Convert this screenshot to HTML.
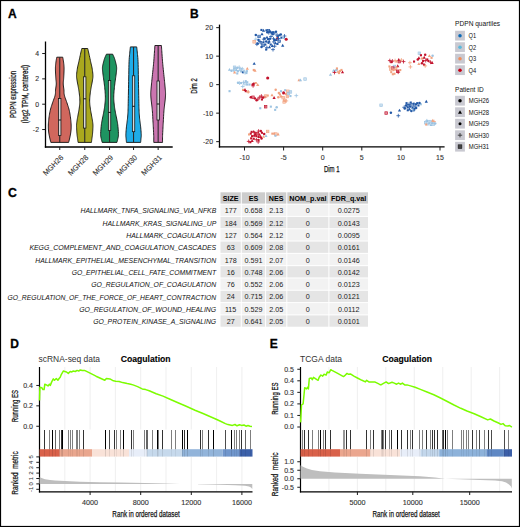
<!DOCTYPE html>
<html><head><meta charset="utf-8"><style>
html,body{margin:0;padding:0;background:#fff;}
svg{display:block;}
text{font-family:"Liberation Sans",sans-serif;}
</style></head><body>
<svg width="520" height="527" viewBox="0 0 520 527">
<rect width="520" height="527" fill="#fff"/>
<rect x="0.5" y="0.5" width="519" height="526" fill="none" stroke="#000" stroke-width="1.2"/>
<text x="8.10" y="17.90" font-size="12" stroke="#000" stroke-width="0.3" font-weight="bold">A</text>
<text x="190.00" y="18.30" font-size="12" stroke="#000" stroke-width="0.3" font-weight="bold">B</text>
<text x="8.00" y="196.60" font-size="12.3" stroke="#000" stroke-width="0.3" font-weight="bold">C</text>
<text x="10.20" y="348.00" font-size="12" stroke="#000" stroke-width="0.3" font-weight="bold">D</text>
<text x="269.80" y="348.00" font-size="12" stroke="#000" stroke-width="0.3" font-weight="bold">E</text>
<polygon points="62.75,57.20 62.84,57.72 62.97,58.43 63.12,59.28 63.28,60.19 63.42,61.12 63.55,62.00 63.66,62.84 63.76,63.68 63.86,64.54 63.94,65.41 64.00,66.29 64.05,67.20 64.07,68.13 64.07,69.10 64.05,70.08 64.02,71.06 63.99,72.04 63.95,73.00 63.91,73.95 63.87,74.89 63.82,75.82 63.76,76.76 63.71,77.68 63.65,78.60 63.58,79.50 63.48,80.39 63.39,81.27 63.31,82.16 63.25,83.07 63.25,84.00 63.31,84.97 63.41,85.99 63.55,87.01 63.70,88.04 63.84,89.04 63.95,90.00 64.01,90.89 64.02,91.70 64.03,92.50 64.06,93.32 64.16,94.20 64.35,95.20 64.66,96.33 65.06,97.56 65.53,98.86 66.02,100.19 66.51,101.51 66.95,102.80 67.36,104.05 67.78,105.30 68.18,106.54 68.57,107.79 68.93,109.04 69.25,110.30 69.53,111.58 69.78,112.88 70.01,114.18 70.21,115.48 70.39,116.75 70.55,118.00 70.70,119.22 70.83,120.42 70.94,121.61 71.04,122.77 71.10,123.90 71.15,125.00 71.17,126.06 71.17,127.07 71.15,128.06 71.11,129.04 71.04,130.01 70.95,131.00 70.83,132.01 70.69,133.02 70.52,134.04 70.34,135.04 70.14,136.03 69.95,137.00 69.74,138.00 69.49,139.04 69.24,140.07 69.00,141.02 68.79,141.82 68.65,142.40 50.85,142.40 50.71,141.82 50.50,141.02 50.26,140.07 50.01,139.04 49.76,138.00 49.55,137.00 49.36,136.03 49.16,135.04 48.98,134.04 48.81,133.02 48.67,132.01 48.55,131.00 48.46,130.01 48.39,129.04 48.35,128.06 48.33,127.07 48.33,126.06 48.35,125.00 48.40,123.90 48.46,122.77 48.56,121.61 48.67,120.42 48.80,119.22 48.95,118.00 49.11,116.75 49.29,115.48 49.49,114.18 49.72,112.88 49.97,111.58 50.25,110.30 50.57,109.04 50.93,107.79 51.32,106.54 51.72,105.30 52.14,104.05 52.55,102.80 52.99,101.51 53.48,100.19 53.97,98.86 54.44,97.56 54.84,96.33 55.15,95.20 55.34,94.20 55.44,93.32 55.47,92.50 55.48,91.70 55.49,90.89 55.55,90.00 55.66,89.04 55.80,88.04 55.95,87.01 56.09,85.99 56.19,84.97 56.25,84.00 56.25,83.07 56.19,82.16 56.11,81.27 56.02,80.39 55.92,79.50 55.85,78.60 55.79,77.68 55.74,76.76 55.68,75.82 55.63,74.89 55.59,73.95 55.55,73.00 55.51,72.04 55.48,71.06 55.45,70.08 55.43,69.10 55.43,68.13 55.45,67.20 55.50,66.29 55.56,65.41 55.64,64.54 55.74,63.68 55.84,62.84 55.95,62.00 56.08,61.12 56.22,60.19 56.38,59.28 56.53,58.43 56.66,57.72 56.75,57.20" fill="#D0675D" stroke="#111" stroke-width="0.9" stroke-linejoin="round"/>
<line x1="59.75" y1="57.20" x2="59.75" y2="98.60" stroke="#2a2a2a" stroke-width="1.1"/>
<line x1="59.75" y1="135.40" x2="59.75" y2="142.40" stroke="#2a2a2a" stroke-width="1.1"/>
<rect x="58.55" y="98.60" width="2.4" height="36.80" fill="#D9D9D9" stroke="#111" stroke-width="0.75"/>
<line x1="58.55" y1="120.00" x2="60.95" y2="120.00" stroke="#111" stroke-width="1.0"/>
<polygon points="87.70,48.50 87.80,48.94 87.94,49.51 88.11,50.21 88.30,51.02 88.51,51.95 88.75,53.00 89.02,54.23 89.34,55.68 89.68,57.24 90.02,58.82 90.35,60.34 90.65,61.70 90.92,62.88 91.17,63.93 91.41,64.93 91.64,65.90 91.85,66.91 92.05,68.00 92.25,69.20 92.44,70.49 92.62,71.80 92.78,73.10 92.89,74.35 92.95,75.50 92.94,76.52 92.88,77.45 92.78,78.32 92.65,79.17 92.50,80.05 92.35,81.00 92.18,82.01 91.99,83.06 91.78,84.13 91.56,85.22 91.35,86.31 91.15,87.40 90.97,88.48 90.78,89.56 90.61,90.65 90.44,91.75 90.29,92.86 90.15,94.00 90.03,95.17 89.91,96.37 89.80,97.59 89.72,98.81 89.66,100.02 89.65,101.20 89.68,102.35 89.75,103.49 89.84,104.61 89.96,105.73 90.10,106.86 90.25,108.00 90.42,109.18 90.62,110.39 90.83,111.61 91.05,112.81 91.26,113.95 91.45,115.00 91.62,115.95 91.78,116.82 91.94,117.64 92.08,118.42 92.22,119.20 92.35,120.00 92.48,120.82 92.60,121.64 92.71,122.45 92.81,123.25 92.89,124.04 92.95,124.80 92.98,125.52 92.98,126.19 92.96,126.84 92.93,127.51 92.89,128.22 92.85,129.00 92.80,129.88 92.75,130.84 92.68,131.84 92.61,132.85 92.53,133.81 92.45,134.70 92.36,135.51 92.26,136.27 92.15,136.99 92.04,137.69 91.94,138.35 91.85,139.00 91.77,139.66 91.69,140.33 91.61,140.97 91.55,141.55 91.49,142.04 91.45,142.40 78.05,142.40 78.01,142.04 77.95,141.55 77.89,140.97 77.81,140.33 77.73,139.66 77.65,139.00 77.56,138.35 77.46,137.69 77.35,136.99 77.24,136.27 77.14,135.51 77.05,134.70 76.97,133.81 76.89,132.85 76.82,131.84 76.75,130.84 76.70,129.88 76.65,129.00 76.61,128.22 76.57,127.51 76.54,126.84 76.52,126.19 76.52,125.52 76.55,124.80 76.61,124.04 76.69,123.25 76.79,122.45 76.90,121.64 77.02,120.82 77.15,120.00 77.28,119.20 77.42,118.42 77.56,117.64 77.72,116.82 77.88,115.95 78.05,115.00 78.24,113.95 78.45,112.81 78.67,111.61 78.88,110.39 79.08,109.18 79.25,108.00 79.40,106.86 79.54,105.73 79.66,104.61 79.75,103.49 79.82,102.35 79.85,101.20 79.84,100.02 79.78,98.81 79.70,97.59 79.59,96.37 79.47,95.17 79.35,94.00 79.21,92.86 79.06,91.75 78.89,90.65 78.72,89.56 78.53,88.48 78.35,87.40 78.15,86.31 77.94,85.22 77.72,84.13 77.51,83.06 77.32,82.01 77.15,81.00 77.00,80.05 76.85,79.17 76.72,78.32 76.62,77.45 76.56,76.52 76.55,75.50 76.61,74.35 76.72,73.10 76.88,71.80 77.06,70.49 77.25,69.20 77.45,68.00 77.65,66.91 77.86,65.90 78.09,64.93 78.33,63.93 78.58,62.88 78.85,61.70 79.15,60.34 79.48,58.82 79.82,57.24 80.16,55.68 80.48,54.23 80.75,53.00 80.99,51.95 81.20,51.02 81.39,50.21 81.56,49.51 81.70,48.94 81.80,48.50" fill="#AAA81E" stroke="#111" stroke-width="0.9" stroke-linejoin="round"/>
<line x1="84.75" y1="48.50" x2="84.75" y2="76.80" stroke="#2a2a2a" stroke-width="1.1"/>
<line x1="84.75" y1="128.10" x2="84.75" y2="142.40" stroke="#2a2a2a" stroke-width="1.1"/>
<rect x="83.55" y="76.80" width="2.4" height="51.30" fill="#D9D9D9" stroke="#111" stroke-width="0.75"/>
<line x1="83.55" y1="98.80" x2="85.95" y2="98.80" stroke="#111" stroke-width="1.0"/>
<polygon points="112.70,54.20 112.88,54.61 113.14,55.18 113.45,55.85 113.77,56.58 114.08,57.31 114.35,58.00 114.58,58.64 114.79,59.26 114.98,59.89 115.17,60.54 115.36,61.24 115.55,62.00 115.76,62.83 115.98,63.72 116.21,64.65 116.41,65.61 116.56,66.60 116.65,67.60 116.67,68.61 116.62,69.64 116.53,70.69 116.41,71.76 116.28,72.87 116.15,74.00 116.01,75.17 115.85,76.39 115.67,77.63 115.49,78.88 115.32,80.14 115.15,81.40 114.99,82.65 114.83,83.90 114.67,85.15 114.52,86.41 114.38,87.70 114.25,89.00 114.13,90.35 114.02,91.74 113.92,93.15 113.84,94.55 113.78,95.91 113.75,97.20 113.76,98.41 113.79,99.56 113.86,100.68 113.94,101.77 114.04,102.87 114.15,104.00 114.28,105.16 114.42,106.32 114.59,107.49 114.76,108.66 114.95,109.83 115.15,111.00 115.36,112.17 115.59,113.34 115.84,114.51 116.08,115.68 116.32,116.84 116.55,118.00 116.77,119.11 116.98,120.17 117.19,121.22 117.39,122.31 117.58,123.49 117.75,124.80 117.91,126.33 118.08,128.06 118.22,129.88 118.35,131.66 118.43,133.31 118.45,134.70 118.40,135.82 118.29,136.75 118.14,137.54 117.96,138.23 117.79,138.87 117.65,139.50 117.52,140.13 117.38,140.71 117.25,141.25 117.13,141.72 117.02,142.11 116.95,142.40 102.15,142.40 102.08,142.11 101.97,141.72 101.85,141.25 101.72,140.71 101.58,140.13 101.45,139.50 101.31,138.87 101.14,138.23 100.96,137.54 100.81,136.75 100.70,135.82 100.65,134.70 100.67,133.31 100.75,131.66 100.88,129.88 101.02,128.06 101.19,126.33 101.35,124.80 101.52,123.49 101.71,122.31 101.91,121.22 102.12,120.17 102.33,119.11 102.55,118.00 102.78,116.84 103.02,115.68 103.26,114.51 103.51,113.34 103.74,112.17 103.95,111.00 104.15,109.83 104.34,108.66 104.51,107.49 104.68,106.32 104.82,105.16 104.95,104.00 105.06,102.87 105.16,101.77 105.24,100.68 105.31,99.56 105.34,98.41 105.35,97.20 105.32,95.91 105.26,94.55 105.18,93.15 105.08,91.74 104.97,90.35 104.85,89.00 104.72,87.70 104.58,86.41 104.43,85.15 104.27,83.90 104.11,82.65 103.95,81.40 103.78,80.14 103.61,78.88 103.42,77.63 103.25,76.39 103.09,75.17 102.95,74.00 102.82,72.87 102.69,71.76 102.57,70.69 102.48,69.64 102.43,68.61 102.45,67.60 102.54,66.60 102.69,65.61 102.89,64.65 103.12,63.72 103.34,62.83 103.55,62.00 103.74,61.24 103.93,60.54 104.12,59.89 104.31,59.26 104.52,58.64 104.75,58.00 105.02,57.31 105.33,56.58 105.65,55.85 105.96,55.18 106.22,54.61 106.40,54.20" fill="#1E9461" stroke="#111" stroke-width="0.9" stroke-linejoin="round"/>
<line x1="109.55" y1="54.20" x2="109.55" y2="80.50" stroke="#2a2a2a" stroke-width="1.1"/>
<line x1="109.55" y1="130.40" x2="109.55" y2="142.40" stroke="#2a2a2a" stroke-width="1.1"/>
<rect x="108.35" y="80.50" width="2.4" height="49.90" fill="#D9D9D9" stroke="#111" stroke-width="0.75"/>
<line x1="108.35" y1="112.40" x2="110.75" y2="112.40" stroke="#111" stroke-width="1.0"/>
<polygon points="136.70,46.90 136.76,47.40 136.83,48.05 136.93,48.84 137.03,49.77 137.14,50.82 137.25,52.00 137.37,53.23 137.51,54.52 137.66,55.94 137.80,57.56 137.94,59.45 138.05,61.70 138.14,64.40 138.21,67.52 138.28,70.92 138.33,74.46 138.39,78.00 138.45,81.40 138.52,84.82 138.59,88.40 138.66,91.98 138.73,95.41 138.79,98.54 138.85,101.20 138.89,103.32 138.92,105.01 138.95,106.40 138.98,107.61 139.01,108.76 139.05,110.00 139.10,111.29 139.16,112.54 139.23,113.74 139.29,114.88 139.37,115.97 139.45,117.00 139.54,117.95 139.64,118.82 139.74,119.64 139.84,120.42 139.95,121.20 140.05,122.00 140.15,122.78 140.25,123.50 140.35,124.22 140.45,124.98 140.55,125.82 140.65,126.80 140.76,127.98 140.88,129.34 141.01,130.78 141.12,132.22 141.20,133.56 141.25,134.70 141.25,135.64 141.22,136.43 141.16,137.13 141.08,137.77 141.01,138.38 140.95,139.00 140.90,139.66 140.84,140.33 140.78,140.97 140.73,141.55 140.68,142.04 140.65,142.40 126.45,142.40 126.42,142.04 126.37,141.55 126.32,140.97 126.26,140.33 126.20,139.66 126.15,139.00 126.09,138.38 126.02,137.77 125.94,137.13 125.88,136.43 125.85,135.64 125.85,134.70 125.90,133.56 125.98,132.22 126.09,130.78 126.22,129.34 126.34,127.98 126.45,126.80 126.55,125.82 126.65,124.98 126.75,124.22 126.85,123.50 126.95,122.78 127.05,122.00 127.15,121.20 127.26,120.42 127.36,119.64 127.46,118.82 127.56,117.95 127.65,117.00 127.73,115.97 127.81,114.88 127.88,113.74 127.94,112.54 128.00,111.29 128.05,110.00 128.09,108.76 128.12,107.61 128.15,106.40 128.18,105.01 128.21,103.32 128.25,101.20 128.31,98.54 128.37,95.41 128.44,91.98 128.51,88.40 128.58,84.82 128.65,81.40 128.71,78.00 128.77,74.46 128.83,70.92 128.89,67.52 128.96,64.40 129.05,61.70 129.16,59.45 129.30,57.56 129.44,55.94 129.59,54.52 129.73,53.23 129.85,52.00 129.96,50.82 130.07,49.77 130.18,48.84 130.27,48.05 130.34,47.40 130.40,46.90" fill="#1EACE8" stroke="#111" stroke-width="0.9" stroke-linejoin="round"/>
<line x1="133.55" y1="46.90" x2="133.55" y2="75.80" stroke="#2a2a2a" stroke-width="1.1"/>
<line x1="133.55" y1="131.70" x2="133.55" y2="142.40" stroke="#2a2a2a" stroke-width="1.1"/>
<rect x="132.35" y="75.80" width="2.4" height="55.90" fill="#D9D9D9" stroke="#111" stroke-width="0.75"/>
<line x1="132.35" y1="106.30" x2="134.75" y2="106.30" stroke="#111" stroke-width="1.0"/>
<polygon points="161.40,45.50 161.45,46.17 161.51,47.07 161.58,48.14 161.66,49.36 161.76,50.66 161.85,52.00 161.95,53.44 162.06,55.01 162.17,56.67 162.29,58.38 162.42,60.07 162.55,61.70 162.69,63.26 162.83,64.79 162.97,66.31 163.13,67.83 163.29,69.39 163.45,71.00 163.63,72.71 163.82,74.53 164.02,76.37 164.21,78.17 164.39,79.87 164.55,81.40 164.68,82.73 164.79,83.93 164.89,85.02 164.98,86.04 165.07,87.02 165.15,88.00 165.24,88.95 165.32,89.85 165.41,90.71 165.48,91.55 165.53,92.41 165.55,93.30 165.55,94.22 165.52,95.16 165.47,96.10 165.41,97.06 165.33,98.02 165.25,99.00 165.16,99.98 165.05,100.97 164.93,101.98 164.80,102.99 164.67,104.03 164.55,105.10 164.43,106.18 164.31,107.27 164.19,108.38 164.07,109.52 163.96,110.72 163.85,112.00 163.75,113.39 163.66,114.89 163.58,116.44 163.50,117.99 163.43,119.50 163.35,120.90 163.28,122.17 163.21,123.34 163.14,124.46 163.08,125.58 163.02,126.74 162.95,128.00 162.88,129.39 162.80,130.89 162.72,132.44 162.65,133.96 162.59,135.41 162.55,136.70 162.53,137.89 162.52,139.03 162.53,140.09 162.54,141.03 162.55,141.81 162.55,142.40 153.75,142.40 153.75,141.81 153.76,141.03 153.78,140.09 153.78,139.03 153.77,137.89 153.75,136.70 153.71,135.41 153.65,133.96 153.58,132.44 153.50,130.89 153.42,129.39 153.35,128.00 153.28,126.74 153.22,125.58 153.16,124.46 153.09,123.34 153.02,122.17 152.95,120.90 152.87,119.50 152.80,117.99 152.72,116.44 152.64,114.89 152.55,113.39 152.45,112.00 152.34,110.72 152.23,109.52 152.11,108.38 151.99,107.27 151.87,106.18 151.75,105.10 151.63,104.03 151.50,102.99 151.38,101.98 151.25,100.97 151.14,99.98 151.05,99.00 150.97,98.02 150.89,97.06 150.83,96.10 150.78,95.16 150.75,94.22 150.75,93.30 150.77,92.41 150.82,91.55 150.89,90.71 150.98,89.85 151.06,88.95 151.15,88.00 151.23,87.02 151.32,86.04 151.41,85.02 151.51,83.93 151.62,82.73 151.75,81.40 151.91,79.87 152.09,78.17 152.28,76.37 152.48,74.53 152.67,72.71 152.85,71.00 153.01,69.39 153.17,67.83 153.33,66.31 153.47,64.79 153.61,63.26 153.75,61.70 153.88,60.07 154.01,58.38 154.13,56.67 154.24,55.01 154.35,53.44 154.45,52.00 154.54,50.66 154.64,49.36 154.72,48.14 154.79,47.07 154.85,46.17 154.90,45.50" fill="#CB75B0" stroke="#111" stroke-width="0.9" stroke-linejoin="round"/>
<line x1="158.15" y1="45.50" x2="158.15" y2="81.00" stroke="#2a2a2a" stroke-width="1.1"/>
<line x1="158.15" y1="120.00" x2="158.15" y2="142.40" stroke="#2a2a2a" stroke-width="1.1"/>
<rect x="156.95" y="81.00" width="2.4" height="39.00" fill="#D9D9D9" stroke="#111" stroke-width="0.75"/>
<line x1="156.95" y1="104.00" x2="159.35" y2="104.00" stroke="#111" stroke-width="1.0"/>
<line x1="45.50" y1="41.50" x2="45.50" y2="147.65" stroke="#000" stroke-width="1.3"/>
<line x1="44.85" y1="147.00" x2="172.70" y2="147.00" stroke="#000" stroke-width="1.3"/>
<line x1="42.20" y1="53.52" x2="45.40" y2="53.52" stroke="#1a1a1a" stroke-width="1.0"/>
<text x="39.00" y="55.97" font-size="6.9" stroke="#333" stroke-width="0.12" text-anchor="end" fill="#333">4</text>
<line x1="42.20" y1="78.86" x2="45.40" y2="78.86" stroke="#1a1a1a" stroke-width="1.0"/>
<text x="39.00" y="81.31" font-size="6.9" stroke="#333" stroke-width="0.12" text-anchor="end" fill="#333">2</text>
<line x1="42.20" y1="104.20" x2="45.40" y2="104.20" stroke="#1a1a1a" stroke-width="1.0"/>
<text x="39.00" y="106.65" font-size="6.9" stroke="#333" stroke-width="0.12" text-anchor="end" fill="#333">0</text>
<line x1="42.20" y1="129.54" x2="45.40" y2="129.54" stroke="#1a1a1a" stroke-width="1.0"/>
<text x="39.00" y="131.99" font-size="6.9" stroke="#333" stroke-width="0.12" text-anchor="end" fill="#333">-2</text>
<line x1="59.75" y1="147.00" x2="59.75" y2="150.00" stroke="#1a1a1a" stroke-width="1.0"/>
<line x1="84.75" y1="147.00" x2="84.75" y2="150.00" stroke="#1a1a1a" stroke-width="1.0"/>
<line x1="109.55" y1="147.00" x2="109.55" y2="150.00" stroke="#1a1a1a" stroke-width="1.0"/>
<line x1="133.55" y1="147.00" x2="133.55" y2="150.00" stroke="#1a1a1a" stroke-width="1.0"/>
<line x1="158.15" y1="147.00" x2="158.15" y2="150.00" stroke="#1a1a1a" stroke-width="1.0"/>
<text x="63.95" y="158.00" font-size="7.4" stroke="#333" stroke-width="0.12" text-anchor="end" fill="#333" transform="rotate(-45 63.95 158.00)">MGH26</text>
<text x="88.95" y="158.00" font-size="7.4" stroke="#333" stroke-width="0.12" text-anchor="end" fill="#333" transform="rotate(-45 88.95 158.00)">MGH28</text>
<text x="113.75" y="158.00" font-size="7.4" stroke="#333" stroke-width="0.12" text-anchor="end" fill="#333" transform="rotate(-45 113.75 158.00)">MGH29</text>
<text x="137.75" y="158.00" font-size="7.4" stroke="#333" stroke-width="0.12" text-anchor="end" fill="#333" transform="rotate(-45 137.75 158.00)">MGH30</text>
<text x="162.35" y="158.00" font-size="7.4" stroke="#333" stroke-width="0.12" text-anchor="end" fill="#333" transform="rotate(-45 162.35 158.00)">MGH31</text>
<text x="16.50" y="94.40" font-size="9.6" stroke="#111" stroke-width="0.25" text-anchor="middle" fill="#111" textLength="47.00" lengthAdjust="spacingAndGlyphs" transform="rotate(-90 16.50 94.40)">PDPN expression</text>
<text x="27.80" y="94.10" font-size="9.6" stroke="#111" stroke-width="0.25" text-anchor="middle" fill="#111" textLength="58.30" lengthAdjust="spacingAndGlyphs" transform="rotate(-90 27.80 94.10)">(log2 TPM, centered)</text>
<line x1="219.50" y1="24.60" x2="219.50" y2="147.55" stroke="#000" stroke-width="1.3"/>
<line x1="218.85" y1="146.90" x2="444.60" y2="146.90" stroke="#000" stroke-width="1.3"/>
<line x1="216.20" y1="27.65" x2="219.50" y2="27.65" stroke="#1a1a1a" stroke-width="1.0"/>
<text x="213.00" y="30.05" font-size="6.9" stroke="#333" stroke-width="0.12" text-anchor="end" fill="#333">20</text>
<line x1="216.20" y1="56.15" x2="219.50" y2="56.15" stroke="#1a1a1a" stroke-width="1.0"/>
<text x="213.00" y="58.55" font-size="6.9" stroke="#333" stroke-width="0.12" text-anchor="end" fill="#333">10</text>
<line x1="216.20" y1="84.65" x2="219.50" y2="84.65" stroke="#1a1a1a" stroke-width="1.0"/>
<text x="213.00" y="87.05" font-size="6.9" stroke="#333" stroke-width="0.12" text-anchor="end" fill="#333">0</text>
<line x1="216.20" y1="113.15" x2="219.50" y2="113.15" stroke="#1a1a1a" stroke-width="1.0"/>
<text x="213.00" y="115.55" font-size="6.9" stroke="#333" stroke-width="0.12" text-anchor="end" fill="#333">-10</text>
<line x1="216.20" y1="141.65" x2="219.50" y2="141.65" stroke="#1a1a1a" stroke-width="1.0"/>
<text x="213.00" y="144.05" font-size="6.9" stroke="#333" stroke-width="0.12" text-anchor="end" fill="#333">-20</text>
<line x1="244.50" y1="146.90" x2="244.50" y2="150.50" stroke="#1a1a1a" stroke-width="1.0"/>
<text x="244.50" y="159.80" font-size="7.0" stroke="#333" stroke-width="0.12" text-anchor="middle" fill="#333">-10</text>
<line x1="283.60" y1="146.90" x2="283.60" y2="150.50" stroke="#1a1a1a" stroke-width="1.0"/>
<text x="283.60" y="159.80" font-size="7.0" stroke="#333" stroke-width="0.12" text-anchor="middle" fill="#333">-5</text>
<line x1="322.70" y1="146.90" x2="322.70" y2="150.50" stroke="#1a1a1a" stroke-width="1.0"/>
<text x="322.70" y="159.80" font-size="7.0" stroke="#333" stroke-width="0.12" text-anchor="middle" fill="#333">0</text>
<line x1="361.80" y1="146.90" x2="361.80" y2="150.50" stroke="#1a1a1a" stroke-width="1.0"/>
<text x="361.80" y="159.80" font-size="7.0" stroke="#333" stroke-width="0.12" text-anchor="middle" fill="#333">5</text>
<line x1="400.90" y1="146.90" x2="400.90" y2="150.50" stroke="#1a1a1a" stroke-width="1.0"/>
<text x="400.90" y="159.80" font-size="7.0" stroke="#333" stroke-width="0.12" text-anchor="middle" fill="#333">10</text>
<line x1="440.00" y1="146.90" x2="440.00" y2="150.50" stroke="#1a1a1a" stroke-width="1.0"/>
<text x="440.00" y="159.80" font-size="7.0" stroke="#333" stroke-width="0.12" text-anchor="middle" fill="#333">15</text>
<text x="331.70" y="172.40" font-size="9.6" stroke="#111" stroke-width="0.25" text-anchor="middle" fill="#111" textLength="15.60" lengthAdjust="spacingAndGlyphs">Dim 1</text>
<text x="197.20" y="86.00" font-size="9.6" stroke="#111" stroke-width="0.25" text-anchor="middle" fill="#111" textLength="15.60" lengthAdjust="spacingAndGlyphs" transform="rotate(-90 197.20 86.00)">Dim 2</text>
<rect x="260.4" y="28.9" width="2.1" height="2.1" fill="#2258A6"/>
<polygon points="263.5,28.8 265.1,31.7 261.9,31.7" fill="#2258A6"/>
<rect x="265.4" y="29.3" width="2.1" height="2.1" fill="#2258A6"/>
<rect x="267.2" y="29.6" width="2.5" height="2.5" fill="none" stroke="#2258A6" stroke-width="0.7"/><path d="M267.2 30.8H269.8M268.5 29.6V32.0" stroke="#2258A6" stroke-width="0.5"/>
<circle cx="270.0" cy="31.5" r="1.25" fill="#2258A6"/>
<circle cx="267.3" cy="32.3" r="1.25" fill="#2258A6"/>
<path d="M266.9 32.7H270.7M268.8 30.8V34.6" stroke="#2258A6" stroke-width="0.8"/>
<circle cx="271.5" cy="32.7" r="1.25" fill="#2258A6"/>
<rect x="271.9" y="31.2" width="2.1" height="2.1" fill="#2258A6"/>
<path d="M272.3 33.0H276.1M274.2 31.1V34.9" stroke="#2258A6" stroke-width="0.8"/>
<circle cx="272.7" cy="34.2" r="1.25" fill="#2258A6"/>
<path d="M275.1 35.0H278.9M277.0 33.1V36.9" stroke="#2258A6" stroke-width="0.8"/>
<polygon points="279.2,33.4 280.8,36.3 277.6,36.3" fill="#2258A6"/>
<circle cx="280.8" cy="34.6" r="1.25" fill="#2258A6"/>
<circle cx="255.8" cy="35.0" r="1.25" fill="#2258A6"/>
<circle cx="277.7" cy="36.5" r="1.25" fill="#2258A6"/>
<rect x="280.4" y="36.6" width="2.1" height="2.1" fill="#2258A6"/>
<rect x="282.7" y="36.9" width="2.1" height="2.1" fill="#9DC4E2"/>
<circle cx="286.2" cy="39.2" r="1.55" fill="#C2122C"/>
<circle cx="277.3" cy="38.5" r="1.25" fill="#C2122C"/>
<path d="M253.9 39.2H257.7M255.8 37.3V41.1" stroke="#9DC4E2" stroke-width="0.8"/>
<polygon points="267.0,35.7 268.6,38.6 265.4,38.6" fill="#2258A6"/>
<circle cx="264.6" cy="38.5" r="1.25" fill="#2258A6"/>
<path d="M261.9 39.2H265.7M263.8 37.3V41.1" stroke="#2258A6" stroke-width="0.8"/>
<rect x="266.9" y="38.1" width="2.1" height="2.1" fill="#2258A6"/>
<circle cx="270.0" cy="38.8" r="1.25" fill="#2258A6"/>
<path d="M271.6 38.8H275.4M273.5 36.9V40.7" stroke="#2258A6" stroke-width="0.8"/>
<circle cx="274.6" cy="40.0" r="1.25" fill="#2258A6"/>
<polygon points="276.2,38.0 277.8,40.9 274.6,40.9" fill="#2258A6"/>
<rect x="277.9" y="40.0" width="2.5" height="2.5" fill="none" stroke="#2258A6" stroke-width="0.7"/><path d="M277.9 41.2H280.4M279.2 40.0V42.5" stroke="#2258A6" stroke-width="0.5"/>
<rect x="252.9" y="40.6" width="2.5" height="2.5" fill="none" stroke="#F2A27F" stroke-width="0.7"/><path d="M252.9 41.9H255.4M254.2 40.6V43.1" stroke="#F2A27F" stroke-width="0.5"/>
<path d="M258.1 41.5H261.9M260.0 39.6V43.4" stroke="#2258A6" stroke-width="0.8"/>
<circle cx="257.7" cy="43.5" r="1.25" fill="#2258A6"/>
<path d="M255.0 44.2H258.8M256.9 42.3V46.1" stroke="#2258A6" stroke-width="0.8"/>
<path d="M259.3 43.0H263.1M261.2 41.1V44.9" stroke="#2258A6" stroke-width="0.8"/>
<rect x="262.4" y="41.2" width="2.1" height="2.1" fill="#2258A6"/>
<circle cx="266.2" cy="41.5" r="1.25" fill="#2258A6"/>
<polygon points="269.2,39.6 270.8,42.5 267.6,42.5" fill="#2258A6"/>
<circle cx="268.5" cy="42.7" r="1.25" fill="#2258A6"/>
<path d="M271.9 41.9H275.7M273.8 40.0V43.8" stroke="#2258A6" stroke-width="0.8"/>
<polygon points="275.4,41.4 277.0,44.3 273.8,44.3" fill="#2258A6"/>
<rect x="264.3" y="43.5" width="2.1" height="2.1" fill="#2258A6"/>
<rect x="269.7" y="43.5" width="2.1" height="2.1" fill="#2258A6"/>
<polygon points="272.3,44.2 273.9,47.1 270.7,47.1" fill="#2258A6"/>
<path d="M272.7 46.2H276.5M274.6 44.3V48.1" stroke="#2258A6" stroke-width="0.8"/>
<circle cx="261.5" cy="46.9" r="1.25" fill="#2258A6"/>
<path d="M265.0 47.7H268.8M266.9 45.8V49.6" stroke="#2258A6" stroke-width="0.8"/>
<rect x="265.1" y="48.5" width="2.1" height="2.1" fill="#2258A6"/>
<path d="M271.1 49.6H274.9M273.0 47.7V51.5" stroke="#2258A6" stroke-width="0.8"/>
<polygon points="282.7,43.8 284.3,46.7 281.1,46.7" fill="#2258A6"/>
<rect x="257.8" y="35.2" width="2.5" height="2.5" fill="none" stroke="#2258A6" stroke-width="0.7"/><path d="M257.8 36.5H260.2M259.0 35.2V37.8" stroke="#2258A6" stroke-width="0.5"/>
<polygon points="262.0,32.4 263.6,35.3 260.4,35.3" fill="#2258A6"/>
<circle cx="276.0" cy="31.8" r="1.25" fill="#2258A6"/>
<path d="M276.6 38.5H280.4M278.5 36.6V40.4" stroke="#2258A6" stroke-width="0.8"/>
<path d="M269.1 36.5H272.9M271.0 34.6V38.4" stroke="#2258A6" stroke-width="0.8"/>
<rect x="261.8" y="44.2" width="2.5" height="2.5" fill="none" stroke="#2258A6" stroke-width="0.7"/><path d="M261.8 45.5H264.2M263.0 44.2V46.8" stroke="#2258A6" stroke-width="0.5"/>
<polygon points="269.5,45.4 271.1,48.3 267.9,48.3" fill="#2258A6"/>
<rect x="276.4" y="42.9" width="2.1" height="2.1" fill="#2258A6"/>
<circle cx="258.5" cy="40.0" r="1.25" fill="#2258A6"/>
<path d="M282.6 36.0H286.4M284.5 34.1V37.9" stroke="#2258A6" stroke-width="0.8"/>
<polygon points="254.2,61.9 255.8,64.8 252.6,64.8" fill="#2258A6"/>
<rect x="233.3" y="66.0" width="2.5" height="2.5" fill="none" stroke="#9DC4E2" stroke-width="0.7"/><path d="M233.3 67.3H235.8M234.6 66.0V68.5" stroke="#9DC4E2" stroke-width="0.5"/>
<circle cx="237.3" cy="67.7" r="1.25" fill="#9DC4E2"/>
<path d="M237.3 67.3H241.1M239.2 65.4V69.2" stroke="#9DC4E2" stroke-width="0.8"/>
<circle cx="231.5" cy="70.8" r="1.25" fill="#9DC4E2"/>
<path d="M231.6 70.0H235.4M233.5 68.1V71.9" stroke="#9DC4E2" stroke-width="0.8"/>
<polygon points="234.6,70.7 236.2,73.6 233.0,73.6" fill="#F2A27F"/>
<polygon points="236.5,68.4 238.1,71.3 234.9,71.3" fill="#9DC4E2"/>
<rect x="236.9" y="70.1" width="2.1" height="2.1" fill="#9DC4E2"/>
<rect x="239.2" y="68.3" width="2.5" height="2.5" fill="none" stroke="#9DC4E2" stroke-width="0.7"/><path d="M239.2 69.6H241.7M240.4 68.3V70.8" stroke="#9DC4E2" stroke-width="0.5"/>
<path d="M240.4 68.8H244.2M242.3 66.9V70.7" stroke="#9DC4E2" stroke-width="0.8"/>
<rect x="240.1" y="70.4" width="2.1" height="2.1" fill="#9DC4E2"/>
<rect x="236.2" y="72.4" width="2.1" height="2.1" fill="#9DC4E2"/>
<rect x="241.9" y="71.2" width="2.1" height="2.1" fill="#2258A6"/>
<path d="M243.1 72.7H246.9M245.0 70.8V74.6" stroke="#9DC4E2" stroke-width="0.8"/>
<rect x="245.4" y="72.0" width="2.1" height="2.1" fill="#9DC4E2"/>
<rect x="245.8" y="70.1" width="2.1" height="2.1" fill="#9DC4E2"/>
<polygon points="247.3,66.9 248.9,69.8 245.7,69.8" fill="#F2A27F"/>
<rect x="252.7" y="68.9" width="2.1" height="2.1" fill="#F2A27F"/>
<polygon points="255.0,68.8 256.6,71.7 253.4,71.7" fill="#F2A27F"/>
<polygon points="244.0,68.9 245.6,71.8 242.4,71.8" fill="#9DC4E2"/>
<rect x="234.2" y="67.8" width="2.5" height="2.5" fill="none" stroke="#9DC4E2" stroke-width="0.7"/><path d="M234.2 69.0H236.8M235.5 67.8V70.2" stroke="#9DC4E2" stroke-width="0.5"/>
<polygon points="229.5,67.9 231.1,70.8 227.9,70.8" fill="#9DC4E2"/>
<circle cx="238.0" cy="82.7" r="1.25" fill="#9DC4E2"/>
<path d="M237.7 83.1H241.5M239.6 81.2V85.0" stroke="#9DC4E2" stroke-width="0.8"/>
<rect x="240.1" y="82.0" width="2.1" height="2.1" fill="#9DC4E2"/>
<path d="M241.6 82.3H245.4M243.5 80.4V84.2" stroke="#9DC4E2" stroke-width="0.8"/>
<rect x="244.7" y="80.1" width="2.1" height="2.1" fill="#9DC4E2"/>
<rect x="246.2" y="81.2" width="2.1" height="2.1" fill="#9DC4E2"/>
<rect x="243.8" y="82.5" width="2.5" height="2.5" fill="none" stroke="#9DC4E2" stroke-width="0.7"/><path d="M243.8 83.8H246.2M245.0 82.5V85.0" stroke="#9DC4E2" stroke-width="0.5"/>
<rect x="246.2" y="83.5" width="2.1" height="2.1" fill="#9DC4E2"/>
<rect x="248.5" y="83.5" width="2.1" height="2.1" fill="#9DC4E2"/>
<path d="M240.8 86.5H244.6M242.7 84.6V88.4" stroke="#9DC4E2" stroke-width="0.8"/>
<circle cx="252.7" cy="84.6" r="1.25" fill="#C2122C"/>
<circle cx="253.8" cy="83.8" r="1.25" fill="#C2122C"/>
<path d="M251.2 85.8H255.0M253.1 83.9V87.7" stroke="#C2122C" stroke-width="0.8"/>
<rect x="254.7" y="82.0" width="2.1" height="2.1" fill="#F2A27F"/>
<polygon points="257.7,83.0 259.3,85.9 256.1,85.9" fill="#F2A27F"/>
<rect x="242.0" y="88.9" width="2.1" height="2.1" fill="#F2A27F"/>
<polygon points="245.0,88.0 246.6,90.9 243.4,90.9" fill="#C2122C"/>
<rect x="244.7" y="90.1" width="2.1" height="2.1" fill="#C2122C"/>
<polygon points="248.0,89.9 249.6,92.8 246.4,92.8" fill="#F2A27F"/>
<rect x="228.5" y="90.1" width="2.1" height="2.1" fill="#9DC4E2"/>
<circle cx="267.7" cy="78.0" r="1.55" fill="#C2122C"/>
<circle cx="250.8" cy="97.2" r="1.25" fill="#C2122C"/>
<rect x="251.7" y="96.0" width="2.5" height="2.5" fill="none" stroke="#C2122C" stroke-width="0.7"/><path d="M251.7 97.2H254.2M252.9 96.0V98.5" stroke="#C2122C" stroke-width="0.5"/>
<circle cx="256.6" cy="100.3" r="1.25" fill="#C2122C"/>
<path d="M257.9 97.2H261.7M259.8 95.3V99.1" stroke="#C2122C" stroke-width="0.8"/>
<path d="M259.5 96.1H263.3M261.4 94.2V98.0" stroke="#C2122C" stroke-width="0.8"/>
<rect x="261.9" y="96.6" width="2.1" height="2.1" fill="#C2122C"/>
<rect x="263.5" y="96.1" width="2.1" height="2.1" fill="#C2122C"/>
<rect x="264.4" y="94.8" width="2.5" height="2.5" fill="none" stroke="#F2A27F" stroke-width="0.7"/><path d="M264.4 96.1H266.9M265.6 94.8V97.3" stroke="#F2A27F" stroke-width="0.5"/>
<rect x="266.7" y="94.5" width="2.1" height="2.1" fill="#F2A27F"/>
<polygon points="272.0,93.4 273.6,96.3 270.4,96.3" fill="#F2A27F"/>
<polygon points="274.1,96.1 275.7,99.0 272.5,99.0" fill="#C2122C"/>
<path d="M246.3 91.9H250.1M248.2 90.0V93.8" stroke="#F2A27F" stroke-width="0.8"/>
<rect x="253.9" y="97.4" width="2.1" height="2.1" fill="#C2122C"/>
<path d="M256.1 99.0H259.9M258.0 97.1V100.9" stroke="#C2122C" stroke-width="0.8"/>
<rect x="260.9" y="98.4" width="2.1" height="2.1" fill="#C2122C"/>
<circle cx="275.7" cy="89.8" r="1.25" fill="#F2A27F"/>
<circle cx="278.9" cy="92.9" r="1.25" fill="#F2A27F"/>
<rect x="279.9" y="90.2" width="2.1" height="2.1" fill="#9DC4E2"/>
<circle cx="283.6" cy="92.9" r="1.55" fill="#C2122C"/>
<rect x="284.1" y="89.2" width="2.1" height="2.1" fill="#9DC4E2"/>
<rect x="286.6" y="90.0" width="2.5" height="2.5" fill="none" stroke="#F2A27F" stroke-width="0.7"/><path d="M286.6 91.3H289.1M287.9 90.0V92.5" stroke="#F2A27F" stroke-width="0.5"/>
<rect x="289.2" y="90.7" width="2.5" height="2.5" fill="none" stroke="#9DC4E2" stroke-width="0.7"/><path d="M289.2 91.9H291.8M290.5 90.7V93.2" stroke="#9DC4E2" stroke-width="0.5"/>
<circle cx="278.3" cy="97.2" r="1.25" fill="#F2A27F"/>
<circle cx="281.0" cy="96.6" r="1.25" fill="#F2A27F"/>
<rect x="281.9" y="96.5" width="2.5" height="2.5" fill="none" stroke="#F2A27F" stroke-width="0.7"/><path d="M281.9 97.7H284.4M283.1 96.5V99.0" stroke="#F2A27F" stroke-width="0.5"/>
<rect x="286.1" y="95.3" width="2.5" height="2.5" fill="none" stroke="#F2A27F" stroke-width="0.7"/><path d="M286.1 96.6H288.6M287.3 95.3V97.8" stroke="#F2A27F" stroke-width="0.5"/>
<rect x="289.4" y="95.0" width="2.1" height="2.1" fill="#9DC4E2"/>
<rect x="283.4" y="99.0" width="2.5" height="2.5" fill="none" stroke="#F2A27F" stroke-width="0.7"/><path d="M283.4 100.3H285.9M284.7 99.0V101.5" stroke="#F2A27F" stroke-width="0.5"/>
<path d="M284.4 100.9H288.2M286.3 99.0V102.8" stroke="#F2A27F" stroke-width="0.8"/>
<rect x="282.9" y="100.7" width="2.5" height="2.5" fill="none" stroke="#F2A27F" stroke-width="0.7"/><path d="M282.9 101.9H285.4M284.2 100.7V103.2" stroke="#F2A27F" stroke-width="0.5"/>
<path d="M294.4 95.6H298.2M296.3 93.7V97.5" stroke="#9DC4E2" stroke-width="0.8"/>
<rect x="278.9" y="93.4" width="2.1" height="2.1" fill="#F2A27F"/>
<rect x="284.9" y="92.9" width="2.1" height="2.1" fill="#F2A27F"/>
<rect x="287.2" y="92.2" width="2.5" height="2.5" fill="none" stroke="#9DC4E2" stroke-width="0.7"/><path d="M287.2 93.5H289.8M288.5 92.2V94.8" stroke="#9DC4E2" stroke-width="0.5"/>
<rect x="259.2" y="107.2" width="2.1" height="2.1" fill="#9DC4E2"/>
<rect x="264.4" y="105.5" width="2.5" height="2.5" fill="none" stroke="#C2122C" stroke-width="0.7"/><path d="M264.4 106.7H266.9M265.6 105.5V108.0" stroke="#C2122C" stroke-width="0.5"/>
<rect x="269.8" y="105.6" width="2.1" height="2.1" fill="#9DC4E2"/>
<circle cx="276.7" cy="107.2" r="1.25" fill="#9DC4E2"/>
<rect x="274.1" y="108.8" width="2.1" height="2.1" fill="#9DC4E2"/>
<rect x="250.6" y="130.8" width="2.1" height="2.1" fill="#C2122C"/>
<polygon points="253.8,129.9 255.4,132.8 252.2,132.8" fill="#C2122C"/>
<path d="M256.7 131.1H260.5M258.6 129.2V133.0" stroke="#C2122C" stroke-width="0.8"/>
<circle cx="260.8" cy="131.1" r="1.25" fill="#C2122C"/>
<rect x="260.9" y="131.7" width="2.1" height="2.1" fill="#C2122C"/>
<circle cx="264.2" cy="134.1" r="1.25" fill="#C2122C"/>
<polygon points="266.0,134.2 267.6,137.1 264.4,137.1" fill="#9DC4E2"/>
<rect x="249.7" y="132.6" width="2.1" height="2.1" fill="#C2122C"/>
<polygon points="255.1,132.5 256.7,135.4 253.5,135.4" fill="#C2122C"/>
<rect x="256.1" y="132.4" width="2.5" height="2.5" fill="none" stroke="#C2122C" stroke-width="0.7"/><path d="M256.1 133.7H258.6M257.3 132.4V134.9" stroke="#C2122C" stroke-width="0.5"/>
<polygon points="259.5,132.9 261.1,135.8 257.9,135.8" fill="#C2122C"/>
<rect x="251.0" y="135.1" width="2.1" height="2.1" fill="#C2122C"/>
<rect x="253.2" y="134.7" width="2.1" height="2.1" fill="#C2122C"/>
<rect x="255.3" y="135.1" width="2.1" height="2.1" fill="#C2122C"/>
<circle cx="258.6" cy="137.1" r="1.25" fill="#C2122C"/>
<polygon points="260.8,135.1 262.4,138.0 259.2,138.0" fill="#C2122C"/>
<rect x="250.1" y="137.3" width="2.1" height="2.1" fill="#C2122C"/>
<rect x="252.7" y="137.7" width="2.1" height="2.1" fill="#C2122C"/>
<path d="M254.5 139.7H258.3M256.4 137.8V141.6" stroke="#C2122C" stroke-width="0.8"/>
<rect x="257.5" y="139.0" width="2.1" height="2.1" fill="#C2122C"/>
<polygon points="252.1,139.0 253.7,141.9 250.5,141.9" fill="#C2122C"/>
<path d="M246.8 141.4H250.6M248.7 139.5V143.3" stroke="#C2122C" stroke-width="0.8"/>
<rect x="249.3" y="141.2" width="2.1" height="2.1" fill="#C2122C"/>
<path d="M256.3 141.9H260.1M258.2 140.0V143.8" stroke="#C2122C" stroke-width="0.8"/>
<rect x="248.0" y="133.4" width="2.1" height="2.1" fill="#F2A27F"/>
<rect x="266.4" y="130.2" width="2.5" height="2.5" fill="none" stroke="#F2A27F" stroke-width="0.7"/><path d="M266.4 131.5H268.9M267.7 130.2V132.8" stroke="#F2A27F" stroke-width="0.5"/>
<rect x="271.3" y="132.6" width="2.1" height="2.1" fill="#F2A27F"/>
<rect x="273.1" y="132.6" width="2.1" height="2.1" fill="#F2A27F"/>
<rect x="274.6" y="132.8" width="2.5" height="2.5" fill="none" stroke="#F2A27F" stroke-width="0.7"/><path d="M274.6 134.1H277.1M275.9 132.8V135.3" stroke="#F2A27F" stroke-width="0.5"/>
<rect x="274.4" y="134.7" width="2.1" height="2.1" fill="#9DC4E2"/>
<polygon points="278.1,132.5 279.7,135.4 276.5,135.4" fill="#F2A27F"/>
<polygon points="255.0,130.9 256.6,133.8 253.4,133.8" fill="#C2122C"/>
<circle cx="261.5" cy="138.5" r="1.25" fill="#C2122C"/>
<polygon points="263.5,134.9 265.1,137.8 261.9,137.8" fill="#F2A27F"/>
<polygon points="299.0,78.4 300.6,81.3 297.4,81.3" fill="#F2A27F"/>
<polygon points="300.5,78.4 302.1,81.3 298.9,81.3" fill="#9DC4E2"/>
<rect x="303.8" y="77.8" width="2.5" height="2.5" fill="none" stroke="#9DC4E2" stroke-width="0.7"/><path d="M303.8 79.0H306.2M305.0 77.8V80.2" stroke="#9DC4E2" stroke-width="0.5"/>
<polygon points="330.5,72.9 332.1,75.8 328.9,75.8" fill="#9DC4E2"/>
<polygon points="333.5,68.9 335.1,71.8 331.9,71.8" fill="#9DC4E2"/>
<circle cx="335.5" cy="70.5" r="1.25" fill="#9DC4E2"/>
<rect x="335.9" y="68.4" width="2.1" height="2.1" fill="#9DC4E2"/>
<path d="M332.6 72.5H336.4M334.5 70.6V74.4" stroke="#C2122C" stroke-width="0.8"/>
<polygon points="338.0,69.9 339.6,72.8 336.4,72.8" fill="#F2A27F"/>
<rect x="338.9" y="69.9" width="2.1" height="2.1" fill="#F2A27F"/>
<rect x="340.4" y="68.9" width="2.1" height="2.1" fill="#F2A27F"/>
<circle cx="339.0" cy="73.0" r="1.25" fill="#F2A27F"/>
<polygon points="342.5,70.4 344.1,73.3 340.9,73.3" fill="#C2122C"/>
<rect x="335.9" y="67.4" width="2.1" height="2.1" fill="#F2A27F"/>
<path d="M387.9 60.6H391.7M389.8 58.7V62.5" stroke="#C2122C" stroke-width="0.8"/>
<rect x="390.2" y="61.1" width="2.1" height="2.1" fill="#C2122C"/>
<path d="M390.5 61.1H394.3M392.4 59.2V63.0" stroke="#C2122C" stroke-width="0.8"/>
<path d="M393.2 60.6H397.0M395.1 58.7V62.5" stroke="#F2A27F" stroke-width="0.8"/>
<rect x="395.5" y="60.5" width="2.1" height="2.1" fill="#F2A27F"/>
<polygon points="398.8,57.9 400.4,60.8 397.2,60.8" fill="#C2122C"/>
<rect x="398.1" y="60.4" width="2.5" height="2.5" fill="none" stroke="#C2122C" stroke-width="0.7"/><path d="M398.1 61.6H400.6M399.3 60.4V62.9" stroke="#C2122C" stroke-width="0.5"/>
<path d="M399.5 60.0H403.3M401.4 58.1V61.9" stroke="#F2A27F" stroke-width="0.8"/>
<path d="M401.6 61.6H405.4M403.5 59.7V63.5" stroke="#C2122C" stroke-width="0.8"/>
<polygon points="397.7,64.3 399.3,67.2 396.1,67.2" fill="#C2122C"/>
<rect x="393.2" y="65.2" width="2.5" height="2.5" fill="none" stroke="#9DC4E2" stroke-width="0.7"/><path d="M393.2 66.4H395.8M394.5 65.2V67.7" stroke="#9DC4E2" stroke-width="0.5"/>
<rect x="391.6" y="66.8" width="2.5" height="2.5" fill="none" stroke="#C2122C" stroke-width="0.7"/><path d="M391.6 68.0H394.1M392.9 66.8V69.2" stroke="#C2122C" stroke-width="0.5"/>
<rect x="389.6" y="67.8" width="2.5" height="2.5" fill="none" stroke="#F2A27F" stroke-width="0.7"/><path d="M389.6 69.0H392.1M390.8 67.8V70.2" stroke="#F2A27F" stroke-width="0.5"/>
<circle cx="393.5" cy="70.1" r="1.25" fill="#F2A27F"/>
<rect x="394.5" y="68.5" width="2.1" height="2.1" fill="#F2A27F"/>
<rect x="396.4" y="70.0" width="2.5" height="2.5" fill="none" stroke="#C2122C" stroke-width="0.7"/><path d="M396.4 71.2H398.9M397.7 70.0V72.5" stroke="#C2122C" stroke-width="0.5"/>
<path d="M396.3 72.2H400.1M398.2 70.3V74.1" stroke="#C2122C" stroke-width="0.8"/>
<rect x="399.2" y="69.0" width="2.1" height="2.1" fill="#F2A27F"/>
<rect x="390.2" y="71.1" width="2.1" height="2.1" fill="#F2A27F"/>
<rect x="393.4" y="72.7" width="2.1" height="2.1" fill="#F2A27F"/>
<rect x="391.8" y="73.2" width="2.1" height="2.1" fill="#F2A27F"/>
<circle cx="396.5" cy="67.5" r="1.25" fill="#F2A27F"/>
<rect x="388.4" y="65.4" width="2.1" height="2.1" fill="#F2A27F"/>
<path d="M408.0 62.7H411.8M409.9 60.8V64.6" stroke="#F2A27F" stroke-width="0.8"/>
<rect x="413.0" y="60.5" width="2.1" height="2.1" fill="#C2122C"/>
<path d="M408.5 66.9H412.3M410.4 65.0V68.8" stroke="#F2A27F" stroke-width="0.8"/>
<rect x="418.1" y="52.0" width="2.5" height="2.5" fill="none" stroke="#9DC4E2" stroke-width="0.7"/><path d="M418.1 53.2H420.6M419.4 52.0V54.5" stroke="#9DC4E2" stroke-width="0.5"/>
<rect x="419.9" y="54.2" width="2.1" height="2.1" fill="#C2122C"/>
<circle cx="425.2" cy="54.8" r="1.25" fill="#C2122C"/>
<polygon points="418.9,56.3 420.5,59.2 417.3,59.2" fill="#C2122C"/>
<circle cx="422.0" cy="58.5" r="1.25" fill="#F2A27F"/>
<polygon points="424.2,55.8 425.8,58.7 422.6,58.7" fill="#C2122C"/>
<rect x="426.2" y="58.4" width="2.1" height="2.1" fill="#C2122C"/>
<polygon points="429.4,54.2 431.0,57.1 427.8,57.1" fill="#F2A27F"/>
<circle cx="432.6" cy="55.8" r="1.25" fill="#9DC4E2"/>
<rect x="430.5" y="56.8" width="2.1" height="2.1" fill="#F2A27F"/>
<path d="M423.8 60.6H427.6M425.7 58.7V62.5" stroke="#C2122C" stroke-width="0.8"/>
<circle cx="423.1" cy="61.1" r="1.25" fill="#C2122C"/>
<polygon points="418.9,62.2 420.5,65.1 417.3,65.1" fill="#F2A27F"/>
<circle cx="422.0" cy="63.2" r="1.25" fill="#C2122C"/>
<circle cx="424.2" cy="64.8" r="1.25" fill="#C2122C"/>
<path d="M428.6 62.2H432.4M430.5 60.3V64.1" stroke="#C2122C" stroke-width="0.8"/>
<polygon points="432.1,61.1 433.7,64.0 430.5,64.0" fill="#C2122C"/>
<path d="M423.3 65.9H427.1M425.2 64.0V67.8" stroke="#F2A27F" stroke-width="0.8"/>
<circle cx="417.8" cy="59.5" r="1.25" fill="#C2122C"/>
<rect x="427.4" y="59.9" width="2.1" height="2.1" fill="#C2122C"/>
<rect x="379.8" y="104.0" width="2.5" height="2.5" fill="none" stroke="#9DC4E2" stroke-width="0.7"/><path d="M379.8 105.3H382.2M381.0 104.0V106.5" stroke="#9DC4E2" stroke-width="0.5"/>
<rect x="384.9" y="111.8" width="2.5" height="2.5" fill="none" stroke="#C2122C" stroke-width="0.7"/><path d="M384.9 113.0H387.4M386.1 111.8V114.2" stroke="#C2122C" stroke-width="0.5"/>
<circle cx="390.9" cy="112.7" r="1.25" fill="#2258A6"/>
<polygon points="399.5,108.7 401.1,111.6 397.9,111.6" fill="#2258A6"/>
<path d="M396.4 115.7H400.2M398.3 113.8V117.6" stroke="#2258A6" stroke-width="0.8"/>
<polygon points="426.3,99.8 427.9,102.7 424.7,102.7" fill="#2258A6"/>
<path d="M402.3 107.3H406.1M404.2 105.4V109.2" stroke="#2258A6" stroke-width="0.8"/>
<circle cx="406.0" cy="105.5" r="1.25" fill="#2258A6"/>
<circle cx="404.8" cy="108.5" r="1.25" fill="#2258A6"/>
<polygon points="407.8,105.7 409.4,108.6 406.2,108.6" fill="#2258A6"/>
<path d="M407.1 104.3H410.9M409.0 102.4V106.2" stroke="#2258A6" stroke-width="0.8"/>
<rect x="409.1" y="105.6" width="2.1" height="2.1" fill="#2258A6"/>
<polygon points="409.6,107.5 411.2,110.4 408.0,110.4" fill="#2258A6"/>
<rect x="410.8" y="103.7" width="2.5" height="2.5" fill="none" stroke="#2258A6" stroke-width="0.7"/><path d="M410.8 104.9H413.2M412.0 103.7V106.2" stroke="#2258A6" stroke-width="0.5"/>
<rect x="411.5" y="106.8" width="2.1" height="2.1" fill="#2258A6"/>
<rect x="412.7" y="102.6" width="2.1" height="2.1" fill="#2258A6"/>
<path d="M413.1 106.1H416.9M415.0 104.2V108.0" stroke="#2258A6" stroke-width="0.8"/>
<rect x="415.0" y="103.2" width="2.1" height="2.1" fill="#2258A6"/>
<rect x="416.2" y="102.1" width="2.1" height="2.1" fill="#2258A6"/>
<circle cx="413.8" cy="110.3" r="1.25" fill="#2258A6"/>
<circle cx="411.4" cy="110.9" r="1.25" fill="#2258A6"/>
<rect x="406.7" y="109.2" width="2.1" height="2.1" fill="#2258A6"/>
<rect x="417.4" y="104.4" width="2.1" height="2.1" fill="#2258A6"/>
<rect x="419.8" y="103.2" width="2.1" height="2.1" fill="#9DC4E2"/>
<rect x="405.5" y="102.1" width="2.1" height="2.1" fill="#2258A6"/>
<rect x="409.7" y="101.5" width="2.1" height="2.1" fill="#2258A6"/>
<circle cx="416.1" cy="107.9" r="1.25" fill="#2258A6"/>
<polygon points="413.2,107.5 414.8,110.4 411.6,110.4" fill="#9DC4E2"/>
<circle cx="419.5" cy="103.0" r="1.25" fill="#2258A6"/>
<rect x="406.8" y="104.5" width="2.5" height="2.5" fill="none" stroke="#2258A6" stroke-width="0.7"/><path d="M406.8 105.8H409.2M408.0 104.5V107.0" stroke="#2258A6" stroke-width="0.5"/>
<rect x="413.4" y="107.7" width="2.1" height="2.1" fill="#2258A6"/>
<rect x="424.4" y="121.5" width="2.5" height="2.5" fill="none" stroke="#9DC4E2" stroke-width="0.7"/><path d="M424.4 122.8H426.9M425.7 121.5V124.0" stroke="#9DC4E2" stroke-width="0.5"/>
<rect x="426.4" y="119.9" width="2.1" height="2.1" fill="#9DC4E2"/>
<rect x="428.2" y="122.3" width="2.1" height="2.1" fill="#9DC4E2"/>
<rect x="429.1" y="120.3" width="2.5" height="2.5" fill="none" stroke="#9DC4E2" stroke-width="0.7"/><path d="M429.1 121.6H431.6M430.4 120.3V122.8" stroke="#9DC4E2" stroke-width="0.5"/>
<polygon points="432.2,121.2 433.8,124.1 430.6,124.1" fill="#9DC4E2"/>
<path d="M432.1 121.6H435.9M434.0 119.7V123.5" stroke="#F2A27F" stroke-width="0.8"/>
<circle cx="435.2" cy="123.4" r="1.25" fill="#9DC4E2"/>
<polygon points="432.8,118.8 434.4,121.7 431.2,121.7" fill="#F2A27F"/>
<path d="M426.1 124.0H429.9M428.0 122.1V125.9" stroke="#9DC4E2" stroke-width="0.8"/>
<rect x="425.2" y="123.5" width="2.1" height="2.1" fill="#F2A27F"/>
<polygon points="431.0,123.0 432.6,125.9 429.4,125.9" fill="#9DC4E2"/>
<rect x="432.2" y="122.8" width="2.5" height="2.5" fill="none" stroke="#9DC4E2" stroke-width="0.7"/><path d="M432.2 124.0H434.8M433.5 122.8V125.2" stroke="#9DC4E2" stroke-width="0.5"/>
<path d="M424.9 120.8H428.7M426.8 118.9V122.7" stroke="#9DC4E2" stroke-width="0.8"/>
<text x="455.10" y="26.00" font-size="7.2" fill="#111" textLength="45.00" lengthAdjust="spacingAndGlyphs">PDPN quartiles</text>
<rect x="455.10" y="30.75" width="9.80" height="9.80" fill="#C9C9D1"/>
<circle cx="460.0" cy="35.65" r="1.75" fill="#0A6AB8"/>
<text x="468.60" y="38.05" font-size="6.8" fill="#111" textLength="7.60" lengthAdjust="spacingAndGlyphs">Q1</text>
<rect x="455.10" y="42.25" width="9.80" height="9.80" fill="#C9C9D1"/>
<circle cx="460.0" cy="47.15" r="1.75" fill="#5AB9DC"/>
<text x="468.60" y="49.55" font-size="6.8" fill="#111" textLength="7.60" lengthAdjust="spacingAndGlyphs">Q2</text>
<rect x="455.10" y="53.75" width="9.80" height="9.80" fill="#C9C9D1"/>
<circle cx="460.0" cy="58.65" r="1.75" fill="#F08C5A"/>
<text x="468.60" y="61.05" font-size="6.8" fill="#111" textLength="7.60" lengthAdjust="spacingAndGlyphs">Q3</text>
<rect x="455.10" y="65.25" width="9.80" height="9.80" fill="#C9C9D1"/>
<circle cx="460.0" cy="70.15" r="1.75" fill="#C80014"/>
<text x="468.60" y="72.55" font-size="6.8" fill="#111" textLength="7.60" lengthAdjust="spacingAndGlyphs">Q4</text>
<text x="455.10" y="91.60" font-size="7.2" fill="#111" textLength="28.60" lengthAdjust="spacingAndGlyphs">Patient ID</text>
<rect x="455.10" y="95.80" width="9.80" height="9.80" fill="#C9C9D1"/>
<circle cx="460.0" cy="100.70" r="1.75" fill="#000"/>
<text x="468.80" y="103.10" font-size="6.8" fill="#111" textLength="20.30" lengthAdjust="spacingAndGlyphs">MGH26</text>
<rect x="455.10" y="107.30" width="9.80" height="9.80" fill="#C9C9D1"/>
<polygon points="460.0,110.20 462.00,113.80 458.00,113.80" fill="#000"/>
<text x="468.80" y="114.60" font-size="6.8" fill="#111" textLength="20.30" lengthAdjust="spacingAndGlyphs">MGH28</text>
<rect x="455.10" y="118.80" width="9.80" height="9.80" fill="#C9C9D1"/>
<circle cx="460.0" cy="123.70" r="1.5" fill="#000"/>
<text x="468.80" y="126.10" font-size="6.8" fill="#111" textLength="20.30" lengthAdjust="spacingAndGlyphs">MGH29</text>
<rect x="455.10" y="130.30" width="9.80" height="9.80" fill="#C9C9D1"/>
<path d="M457.8 135.20H462.2M460.0 133.00V137.40" stroke="#333" stroke-width="0.9"/>
<text x="468.80" y="137.60" font-size="6.8" fill="#111" textLength="20.30" lengthAdjust="spacingAndGlyphs">MGH30</text>
<rect x="455.10" y="141.80" width="9.80" height="9.80" fill="#C9C9D1"/>
<rect x="458.1" y="144.80" width="3.8" height="3.8" fill="#444" stroke="#111" stroke-width="0.5"/>
<text x="468.80" y="149.10" font-size="6.8" fill="#111" textLength="20.30" lengthAdjust="spacingAndGlyphs">MGH31</text>
<rect x="220.50" y="192.30" width="20.30" height="11.31" fill="#CDCDCD"/>
<text x="230.65" y="200.96" font-size="7.2" text-anchor="middle" font-weight="bold">SIZE</text>
<rect x="241.80" y="192.30" width="23.30" height="11.31" fill="#CDCDCD"/>
<text x="253.45" y="200.96" font-size="7.2" text-anchor="middle" font-weight="bold">ES</text>
<rect x="266.10" y="192.30" width="20.20" height="11.31" fill="#CDCDCD"/>
<text x="276.20" y="200.96" font-size="7.2" text-anchor="middle" font-weight="bold">NES</text>
<rect x="287.30" y="192.30" width="41.10" height="11.31" fill="#CDCDCD"/>
<text x="307.85" y="200.96" font-size="7.2" text-anchor="middle" font-weight="bold">NOM_p.val</text>
<rect x="329.40" y="192.30" width="38.60" height="11.31" fill="#CDCDCD"/>
<text x="348.70" y="200.96" font-size="7.2" text-anchor="middle" font-weight="bold">FDR_q.val</text>
<rect x="220.50" y="204.61" width="20.30" height="11.31" fill="#F2F2F2"/>
<text x="230.65" y="213.27" font-size="7.2" text-anchor="middle" fill="#222">177</text>
<rect x="241.80" y="204.61" width="23.30" height="11.31" fill="#F2F2F2"/>
<text x="253.45" y="213.27" font-size="7.2" text-anchor="middle" fill="#222">0.658</text>
<rect x="266.10" y="204.61" width="20.20" height="11.31" fill="#F2F2F2"/>
<text x="276.20" y="213.27" font-size="7.2" text-anchor="middle" fill="#222">2.13</text>
<rect x="287.30" y="204.61" width="41.10" height="11.31" fill="#F2F2F2"/>
<text x="307.85" y="213.27" font-size="7.2" text-anchor="middle" fill="#222">0</text>
<rect x="329.40" y="204.61" width="38.60" height="11.31" fill="#F2F2F2"/>
<text x="348.70" y="213.27" font-size="7.2" text-anchor="middle" fill="#222">0.0275</text>
<text x="216.20" y="213.37" font-size="7.2" text-anchor="end" font-style="italic" fill="#111" textLength="135.70" lengthAdjust="spacingAndGlyphs">HALLMARK_TNFA_SIGNALING_VIA_NFKB</text>
<rect x="220.50" y="216.92" width="20.30" height="11.31" fill="#E5E5E5"/>
<text x="230.65" y="225.58" font-size="7.2" text-anchor="middle" fill="#222">184</text>
<rect x="241.80" y="216.92" width="23.30" height="11.31" fill="#E5E5E5"/>
<text x="253.45" y="225.58" font-size="7.2" text-anchor="middle" fill="#222">0.569</text>
<rect x="266.10" y="216.92" width="20.20" height="11.31" fill="#E5E5E5"/>
<text x="276.20" y="225.58" font-size="7.2" text-anchor="middle" fill="#222">2.12</text>
<rect x="287.30" y="216.92" width="41.10" height="11.31" fill="#E5E5E5"/>
<text x="307.85" y="225.58" font-size="7.2" text-anchor="middle" fill="#222">0</text>
<rect x="329.40" y="216.92" width="38.60" height="11.31" fill="#E5E5E5"/>
<text x="348.70" y="225.58" font-size="7.2" text-anchor="middle" fill="#222">0.0143</text>
<text x="216.20" y="225.68" font-size="7.2" text-anchor="end" font-style="italic" fill="#111" textLength="113.60" lengthAdjust="spacingAndGlyphs">HALLMARK_KRAS_SIGNALING_UP</text>
<rect x="220.50" y="229.23" width="20.30" height="11.31" fill="#F2F2F2"/>
<text x="230.65" y="237.89" font-size="7.2" text-anchor="middle" fill="#222">127</text>
<rect x="241.80" y="229.23" width="23.30" height="11.31" fill="#F2F2F2"/>
<text x="253.45" y="237.89" font-size="7.2" text-anchor="middle" fill="#222">0.564</text>
<rect x="266.10" y="229.23" width="20.20" height="11.31" fill="#F2F2F2"/>
<text x="276.20" y="237.89" font-size="7.2" text-anchor="middle" fill="#222">2.12</text>
<rect x="287.30" y="229.23" width="41.10" height="11.31" fill="#F2F2F2"/>
<text x="307.85" y="237.89" font-size="7.2" text-anchor="middle" fill="#222">0</text>
<rect x="329.40" y="229.23" width="38.60" height="11.31" fill="#F2F2F2"/>
<text x="348.70" y="237.89" font-size="7.2" text-anchor="middle" fill="#222">0.0095</text>
<text x="216.20" y="237.99" font-size="7.2" text-anchor="end" font-style="italic" fill="#111" textLength="89.90" lengthAdjust="spacingAndGlyphs">HALLMARK_COAGULATION</text>
<rect x="220.50" y="241.54" width="20.30" height="11.31" fill="#E5E5E5"/>
<text x="230.65" y="250.20" font-size="7.2" text-anchor="middle" fill="#222">63</text>
<rect x="241.80" y="241.54" width="23.30" height="11.31" fill="#E5E5E5"/>
<text x="253.45" y="250.20" font-size="7.2" text-anchor="middle" fill="#222">0.609</text>
<rect x="266.10" y="241.54" width="20.20" height="11.31" fill="#E5E5E5"/>
<text x="276.20" y="250.20" font-size="7.2" text-anchor="middle" fill="#222">2.08</text>
<rect x="287.30" y="241.54" width="41.10" height="11.31" fill="#E5E5E5"/>
<text x="307.85" y="250.20" font-size="7.2" text-anchor="middle" fill="#222">0</text>
<rect x="329.40" y="241.54" width="38.60" height="11.31" fill="#E5E5E5"/>
<text x="348.70" y="250.20" font-size="7.2" text-anchor="middle" fill="#222">0.0161</text>
<text x="216.20" y="250.30" font-size="7.2" text-anchor="end" font-style="italic" fill="#111" textLength="186.80" lengthAdjust="spacingAndGlyphs">KEGG_COMPLEMENT_AND_COAGULATION_CASCADES</text>
<rect x="220.50" y="253.85" width="20.30" height="11.31" fill="#F2F2F2"/>
<text x="230.65" y="262.50" font-size="7.2" text-anchor="middle" fill="#222">178</text>
<rect x="241.80" y="253.85" width="23.30" height="11.31" fill="#F2F2F2"/>
<text x="253.45" y="262.50" font-size="7.2" text-anchor="middle" fill="#222">0.591</text>
<rect x="266.10" y="253.85" width="20.20" height="11.31" fill="#F2F2F2"/>
<text x="276.20" y="262.50" font-size="7.2" text-anchor="middle" fill="#222">2.07</text>
<rect x="287.30" y="253.85" width="41.10" height="11.31" fill="#F2F2F2"/>
<text x="307.85" y="262.50" font-size="7.2" text-anchor="middle" fill="#222">0</text>
<rect x="329.40" y="253.85" width="38.60" height="11.31" fill="#F2F2F2"/>
<text x="348.70" y="262.50" font-size="7.2" text-anchor="middle" fill="#222">0.0146</text>
<text x="216.20" y="262.61" font-size="7.2" text-anchor="end" font-style="italic" fill="#111" textLength="180.90" lengthAdjust="spacingAndGlyphs">HALLMARK_EPITHELIAL_MESENCHYMAL_TRANSITION</text>
<rect x="220.50" y="266.16" width="20.30" height="11.31" fill="#E5E5E5"/>
<text x="230.65" y="274.81" font-size="7.2" text-anchor="middle" fill="#222">16</text>
<rect x="241.80" y="266.16" width="23.30" height="11.31" fill="#E5E5E5"/>
<text x="253.45" y="274.81" font-size="7.2" text-anchor="middle" fill="#222">0.748</text>
<rect x="266.10" y="266.16" width="20.20" height="11.31" fill="#E5E5E5"/>
<text x="276.20" y="274.81" font-size="7.2" text-anchor="middle" fill="#222">2.06</text>
<rect x="287.30" y="266.16" width="41.10" height="11.31" fill="#E5E5E5"/>
<text x="307.85" y="274.81" font-size="7.2" text-anchor="middle" fill="#222">0</text>
<rect x="329.40" y="266.16" width="38.60" height="11.31" fill="#E5E5E5"/>
<text x="348.70" y="274.81" font-size="7.2" text-anchor="middle" fill="#222">0.0142</text>
<text x="216.20" y="274.92" font-size="7.2" text-anchor="end" font-style="italic" fill="#111" textLength="144.50" lengthAdjust="spacingAndGlyphs">GO_EPITHELIAL_CELL_FATE_COMMITMENT</text>
<rect x="220.50" y="278.47" width="20.30" height="11.31" fill="#F2F2F2"/>
<text x="230.65" y="287.12" font-size="7.2" text-anchor="middle" fill="#222">76</text>
<rect x="241.80" y="278.47" width="23.30" height="11.31" fill="#F2F2F2"/>
<text x="253.45" y="287.12" font-size="7.2" text-anchor="middle" fill="#222">0.552</text>
<rect x="266.10" y="278.47" width="20.20" height="11.31" fill="#F2F2F2"/>
<text x="276.20" y="287.12" font-size="7.2" text-anchor="middle" fill="#222">2.06</text>
<rect x="287.30" y="278.47" width="41.10" height="11.31" fill="#F2F2F2"/>
<text x="307.85" y="287.12" font-size="7.2" text-anchor="middle" fill="#222">0</text>
<rect x="329.40" y="278.47" width="38.60" height="11.31" fill="#F2F2F2"/>
<text x="348.70" y="287.12" font-size="7.2" text-anchor="middle" fill="#222">0.0123</text>
<text x="216.20" y="287.23" font-size="7.2" text-anchor="end" font-style="italic" fill="#111" textLength="124.90" lengthAdjust="spacingAndGlyphs">GO_REGULATION_OF_COAGULATION</text>
<rect x="220.50" y="290.78" width="20.30" height="11.31" fill="#E5E5E5"/>
<text x="230.65" y="299.44" font-size="7.2" text-anchor="middle" fill="#222">24</text>
<rect x="241.80" y="290.78" width="23.30" height="11.31" fill="#E5E5E5"/>
<text x="253.45" y="299.44" font-size="7.2" text-anchor="middle" fill="#222">0.715</text>
<rect x="266.10" y="290.78" width="20.20" height="11.31" fill="#E5E5E5"/>
<text x="276.20" y="299.44" font-size="7.2" text-anchor="middle" fill="#222">2.06</text>
<rect x="287.30" y="290.78" width="41.10" height="11.31" fill="#E5E5E5"/>
<text x="307.85" y="299.44" font-size="7.2" text-anchor="middle" fill="#222">0</text>
<rect x="329.40" y="290.78" width="38.60" height="11.31" fill="#E5E5E5"/>
<text x="348.70" y="299.44" font-size="7.2" text-anchor="middle" fill="#222">0.0121</text>
<text x="216.20" y="299.54" font-size="7.2" text-anchor="end" font-style="italic" fill="#111" textLength="208.60" lengthAdjust="spacingAndGlyphs">GO_REGULATION_OF_THE_FORCE_OF_HEART_CONTRACTION</text>
<rect x="220.50" y="303.09" width="20.30" height="11.31" fill="#F2F2F2"/>
<text x="230.65" y="311.75" font-size="7.2" text-anchor="middle" fill="#222">115</text>
<rect x="241.80" y="303.09" width="23.30" height="11.31" fill="#F2F2F2"/>
<text x="253.45" y="311.75" font-size="7.2" text-anchor="middle" fill="#222">0.529</text>
<rect x="266.10" y="303.09" width="20.20" height="11.31" fill="#F2F2F2"/>
<text x="276.20" y="311.75" font-size="7.2" text-anchor="middle" fill="#222">2.05</text>
<rect x="287.30" y="303.09" width="41.10" height="11.31" fill="#F2F2F2"/>
<text x="307.85" y="311.75" font-size="7.2" text-anchor="middle" fill="#222">0</text>
<rect x="329.40" y="303.09" width="38.60" height="11.31" fill="#F2F2F2"/>
<text x="348.70" y="311.75" font-size="7.2" text-anchor="middle" fill="#222">0.0112</text>
<text x="216.20" y="311.85" font-size="7.2" text-anchor="end" font-style="italic" fill="#111" textLength="137.00" lengthAdjust="spacingAndGlyphs">GO_REGULATION_OF_WOUND_HEALING</text>
<rect x="220.50" y="315.40" width="20.30" height="11.31" fill="#E5E5E5"/>
<text x="230.65" y="324.06" font-size="7.2" text-anchor="middle" fill="#222">27</text>
<rect x="241.80" y="315.40" width="23.30" height="11.31" fill="#E5E5E5"/>
<text x="253.45" y="324.06" font-size="7.2" text-anchor="middle" fill="#222">0.641</text>
<rect x="266.10" y="315.40" width="20.20" height="11.31" fill="#E5E5E5"/>
<text x="276.20" y="324.06" font-size="7.2" text-anchor="middle" fill="#222">2.05</text>
<rect x="287.30" y="315.40" width="41.10" height="11.31" fill="#E5E5E5"/>
<text x="307.85" y="324.06" font-size="7.2" text-anchor="middle" fill="#222">0</text>
<rect x="329.40" y="315.40" width="38.60" height="11.31" fill="#E5E5E5"/>
<text x="348.70" y="324.06" font-size="7.2" text-anchor="middle" fill="#222">0.0101</text>
<text x="216.20" y="324.16" font-size="7.2" text-anchor="end" font-style="italic" fill="#111" textLength="123.00" lengthAdjust="spacingAndGlyphs">GO_PROTEIN_KINASE_A_SIGNALING</text>
<line x1="64.80" y1="367.00" x2="64.80" y2="429.50" stroke="#EBEBEB" stroke-width="0.8"/>
<line x1="64.80" y1="457.00" x2="64.80" y2="491.30" stroke="#EBEBEB" stroke-width="0.8"/>
<line x1="90.10" y1="367.00" x2="90.10" y2="429.50" stroke="#EBEBEB" stroke-width="0.8"/>
<line x1="90.10" y1="457.00" x2="90.10" y2="491.30" stroke="#EBEBEB" stroke-width="0.8"/>
<line x1="115.40" y1="367.00" x2="115.40" y2="429.50" stroke="#EBEBEB" stroke-width="0.8"/>
<line x1="115.40" y1="457.00" x2="115.40" y2="491.30" stroke="#EBEBEB" stroke-width="0.8"/>
<line x1="140.70" y1="367.00" x2="140.70" y2="429.50" stroke="#EBEBEB" stroke-width="0.8"/>
<line x1="140.70" y1="457.00" x2="140.70" y2="491.30" stroke="#EBEBEB" stroke-width="0.8"/>
<line x1="166.00" y1="367.00" x2="166.00" y2="429.50" stroke="#EBEBEB" stroke-width="0.8"/>
<line x1="166.00" y1="457.00" x2="166.00" y2="491.30" stroke="#EBEBEB" stroke-width="0.8"/>
<line x1="191.30" y1="367.00" x2="191.30" y2="429.50" stroke="#EBEBEB" stroke-width="0.8"/>
<line x1="191.30" y1="457.00" x2="191.30" y2="491.30" stroke="#EBEBEB" stroke-width="0.8"/>
<line x1="216.60" y1="367.00" x2="216.60" y2="429.50" stroke="#EBEBEB" stroke-width="0.8"/>
<line x1="216.60" y1="457.00" x2="216.60" y2="491.30" stroke="#EBEBEB" stroke-width="0.8"/>
<line x1="241.90" y1="367.00" x2="241.90" y2="429.50" stroke="#EBEBEB" stroke-width="0.8"/>
<line x1="241.90" y1="457.00" x2="241.90" y2="491.30" stroke="#EBEBEB" stroke-width="0.8"/>
<text x="38.60" y="362.20" font-size="8.6" fill="#333" textLength="61.40" lengthAdjust="spacingAndGlyphs">scRNA-seq data</text>
<text x="120.80" y="362.00" font-size="8.6" stroke="#000" stroke-width="0.12" font-weight="bold" textLength="49.80" lengthAdjust="spacingAndGlyphs">Coagulation</text>
<line x1="39.50" y1="367.00" x2="39.50" y2="492.45" stroke="#000" stroke-width="1.2"/>
<line x1="36.30" y1="385.45" x2="39.50" y2="385.45" stroke="#1a1a1a" stroke-width="1.0"/>
<text x="32.90" y="387.90" font-size="7" stroke="#333" stroke-width="0.12" text-anchor="end" fill="#333">0.4</text>
<line x1="36.30" y1="405.85" x2="39.50" y2="405.85" stroke="#1a1a1a" stroke-width="1.0"/>
<text x="32.90" y="408.30" font-size="7" stroke="#333" stroke-width="0.12" text-anchor="end" fill="#333">0.2</text>
<line x1="36.30" y1="426.25" x2="39.50" y2="426.25" stroke="#1a1a1a" stroke-width="1.0"/>
<text x="32.90" y="428.70" font-size="7" stroke="#333" stroke-width="0.12" text-anchor="end" fill="#333">0.0</text>
<polyline points="39.50,400.40 39.90,387.30 41.80,387.70 42.90,389.60 44.10,389.60 44.80,384.20 46.40,384.90 48.00,385.90 49.40,384.20 50.30,385.40 51.70,381.90 53.30,378.90 54.50,380.30 56.30,378.50 57.90,380.30 59.10,378.50 60.20,377.30 61.40,374.30 63.30,371.10 64.90,371.50 66.50,372.00 68.30,373.40 70.20,371.50 71.80,372.00 73.00,371.10 75.30,371.50 77.10,370.40 78.70,371.10 80.30,369.90 82.20,370.40 84.50,370.40 89.10,372.70 96.00,376.20 104.80,380.30 106.40,378.50 109.90,378.90 113.40,380.80 115.70,381.20 119.10,381.50 122.60,382.60 124.90,383.10 127.20,383.60 130.70,384.20 133.00,384.90 137.60,386.60 142.20,388.90 145.70,389.60 149.20,390.70 156.20,393.80 163.00,396.10 170.00,399.20 178.00,402.70 186.20,406.30 195.00,410.20 203.00,413.50 209.30,416.20 216.20,419.20 220.00,421.00 225.40,423.60 228.00,424.60 232.40,425.40 235.00,424.50 237.00,425.80 239.50,424.80 241.60,425.40 244.00,425.00 246.00,426.20 248.00,425.50 250.00,426.20 252.00,426.60" fill="none" stroke="#7CFC00" stroke-width="1.5" stroke-linejoin="round"/>
<rect x="39.50" y="449.20" width="20.30" height="7.40" fill="#D9614A"/>
<rect x="59.80" y="449.20" width="32.20" height="7.40" fill="#E9A68E"/>
<rect x="92.00" y="449.20" width="37.00" height="7.40" fill="#F9E2D8"/>
<rect x="129.00" y="449.20" width="18.00" height="7.40" fill="#E8EEF9"/>
<rect x="147.00" y="449.20" width="35.00" height="7.40" fill="#C6D9EC"/>
<rect x="182.00" y="449.20" width="40.70" height="7.40" fill="#92B4DA"/>
<rect x="222.70" y="449.20" width="16.60" height="7.40" fill="#7096CC"/>
<rect x="239.30" y="449.20" width="13.20" height="7.40" fill="#3C60A9"/>
<line x1="39.50" y1="430.00" x2="39.50" y2="449.20" stroke="rgba(0,0,0,1)" stroke-width="1.0"/>
<line x1="39.50" y1="449.20" x2="39.50" y2="456.60" stroke="rgba(0,0,0,0.120)" stroke-width="1.0"/>
<line x1="44.50" y1="430.00" x2="44.50" y2="449.20" stroke="rgba(0,0,0,0.8)" stroke-width="1.0"/>
<line x1="44.50" y1="449.20" x2="44.50" y2="456.60" stroke="rgba(0,0,0,0.096)" stroke-width="1.0"/>
<line x1="49.50" y1="430.00" x2="49.50" y2="449.20" stroke="rgba(0,0,0,0.5)" stroke-width="1.0"/>
<line x1="49.50" y1="449.20" x2="49.50" y2="456.60" stroke="rgba(0,0,0,0.060)" stroke-width="1.0"/>
<line x1="52.50" y1="430.00" x2="52.50" y2="449.20" stroke="rgba(0,0,0,1)" stroke-width="1.0"/>
<line x1="52.50" y1="449.20" x2="52.50" y2="456.60" stroke="rgba(0,0,0,0.120)" stroke-width="1.0"/>
<line x1="55.50" y1="430.00" x2="55.50" y2="449.20" stroke="rgba(0,0,0,0.6)" stroke-width="1.0"/>
<line x1="55.50" y1="449.20" x2="55.50" y2="456.60" stroke="rgba(0,0,0,0.072)" stroke-width="1.0"/>
<line x1="59.50" y1="430.00" x2="59.50" y2="449.20" stroke="rgba(0,0,0,0.5)" stroke-width="1.0"/>
<line x1="59.50" y1="449.20" x2="59.50" y2="456.60" stroke="rgba(0,0,0,0.060)" stroke-width="1.0"/>
<line x1="61.50" y1="430.00" x2="61.50" y2="449.20" stroke="rgba(0,0,0,0.8)" stroke-width="1.0"/>
<line x1="61.50" y1="449.20" x2="61.50" y2="456.60" stroke="rgba(0,0,0,0.096)" stroke-width="1.0"/>
<line x1="62.50" y1="430.00" x2="62.50" y2="449.20" stroke="rgba(0,0,0,1)" stroke-width="1.0"/>
<line x1="62.50" y1="449.20" x2="62.50" y2="456.60" stroke="rgba(0,0,0,0.120)" stroke-width="1.0"/>
<line x1="68.50" y1="430.00" x2="68.50" y2="449.20" stroke="rgba(0,0,0,0.5)" stroke-width="1.0"/>
<line x1="68.50" y1="449.20" x2="68.50" y2="456.60" stroke="rgba(0,0,0,0.060)" stroke-width="1.0"/>
<line x1="70.50" y1="430.00" x2="70.50" y2="449.20" stroke="rgba(0,0,0,0.5)" stroke-width="1.0"/>
<line x1="70.50" y1="449.20" x2="70.50" y2="456.60" stroke="rgba(0,0,0,0.060)" stroke-width="1.0"/>
<line x1="72.50" y1="430.00" x2="72.50" y2="449.20" stroke="rgba(0,0,0,0.5)" stroke-width="1.0"/>
<line x1="72.50" y1="449.20" x2="72.50" y2="456.60" stroke="rgba(0,0,0,0.060)" stroke-width="1.0"/>
<line x1="76.50" y1="430.00" x2="76.50" y2="449.20" stroke="rgba(0,0,0,0.5)" stroke-width="1.0"/>
<line x1="76.50" y1="449.20" x2="76.50" y2="456.60" stroke="rgba(0,0,0,0.060)" stroke-width="1.0"/>
<line x1="77.50" y1="430.00" x2="77.50" y2="449.20" stroke="rgba(0,0,0,0.5)" stroke-width="1.0"/>
<line x1="77.50" y1="449.20" x2="77.50" y2="456.60" stroke="rgba(0,0,0,0.060)" stroke-width="1.0"/>
<line x1="79.50" y1="430.00" x2="79.50" y2="449.20" stroke="rgba(0,0,0,0.5)" stroke-width="1.0"/>
<line x1="79.50" y1="449.20" x2="79.50" y2="456.60" stroke="rgba(0,0,0,0.060)" stroke-width="1.0"/>
<line x1="83.50" y1="430.00" x2="83.50" y2="449.20" stroke="rgba(0,0,0,0.8)" stroke-width="1.0"/>
<line x1="83.50" y1="449.20" x2="83.50" y2="456.60" stroke="rgba(0,0,0,0.096)" stroke-width="1.0"/>
<line x1="105.50" y1="430.00" x2="105.50" y2="449.20" stroke="rgba(0,0,0,1)" stroke-width="1.0"/>
<line x1="105.50" y1="449.20" x2="105.50" y2="456.60" stroke="rgba(0,0,0,0.120)" stroke-width="1.0"/>
<line x1="109.50" y1="430.00" x2="109.50" y2="449.20" stroke="rgba(0,0,0,0.7)" stroke-width="1.0"/>
<line x1="109.50" y1="449.20" x2="109.50" y2="456.60" stroke="rgba(0,0,0,0.084)" stroke-width="1.0"/>
<line x1="114.50" y1="430.00" x2="114.50" y2="449.20" stroke="rgba(0,0,0,0.8)" stroke-width="1.0"/>
<line x1="114.50" y1="449.20" x2="114.50" y2="456.60" stroke="rgba(0,0,0,0.096)" stroke-width="1.0"/>
<line x1="116.50" y1="430.00" x2="116.50" y2="449.20" stroke="rgba(0,0,0,0.5)" stroke-width="1.0"/>
<line x1="116.50" y1="449.20" x2="116.50" y2="456.60" stroke="rgba(0,0,0,0.060)" stroke-width="1.0"/>
<line x1="120.50" y1="430.00" x2="120.50" y2="449.20" stroke="rgba(0,0,0,0.5)" stroke-width="1.0"/>
<line x1="120.50" y1="449.20" x2="120.50" y2="456.60" stroke="rgba(0,0,0,0.060)" stroke-width="1.0"/>
<line x1="123.50" y1="430.00" x2="123.50" y2="449.20" stroke="rgba(0,0,0,1)" stroke-width="1.0"/>
<line x1="123.50" y1="449.20" x2="123.50" y2="456.60" stroke="rgba(0,0,0,0.120)" stroke-width="1.0"/>
<line x1="131.50" y1="430.00" x2="131.50" y2="449.20" stroke="rgba(0,0,0,0.8)" stroke-width="1.0"/>
<line x1="131.50" y1="449.20" x2="131.50" y2="456.60" stroke="rgba(0,0,0,0.096)" stroke-width="1.0"/>
<line x1="133.50" y1="430.00" x2="133.50" y2="449.20" stroke="rgba(0,0,0,0.5)" stroke-width="1.0"/>
<line x1="133.50" y1="449.20" x2="133.50" y2="456.60" stroke="rgba(0,0,0,0.060)" stroke-width="1.0"/>
<line x1="144.50" y1="430.00" x2="144.50" y2="449.20" stroke="rgba(0,0,0,0.5)" stroke-width="1.0"/>
<line x1="144.50" y1="449.20" x2="144.50" y2="456.60" stroke="rgba(0,0,0,0.060)" stroke-width="1.0"/>
<line x1="146.50" y1="430.00" x2="146.50" y2="449.20" stroke="rgba(0,0,0,0.6)" stroke-width="1.0"/>
<line x1="146.50" y1="449.20" x2="146.50" y2="456.60" stroke="rgba(0,0,0,0.072)" stroke-width="1.0"/>
<line x1="147.50" y1="430.00" x2="147.50" y2="449.20" stroke="rgba(0,0,0,0.6)" stroke-width="1.0"/>
<line x1="147.50" y1="449.20" x2="147.50" y2="456.60" stroke="rgba(0,0,0,0.072)" stroke-width="1.0"/>
<line x1="152.50" y1="430.00" x2="152.50" y2="449.20" stroke="rgba(0,0,0,0.5)" stroke-width="1.0"/>
<line x1="152.50" y1="449.20" x2="152.50" y2="456.60" stroke="rgba(0,0,0,0.060)" stroke-width="1.0"/>
<line x1="157.50" y1="430.00" x2="157.50" y2="449.20" stroke="rgba(0,0,0,1)" stroke-width="1.0"/>
<line x1="157.50" y1="449.20" x2="157.50" y2="456.60" stroke="rgba(0,0,0,0.120)" stroke-width="1.0"/>
<line x1="158.50" y1="430.00" x2="158.50" y2="449.20" stroke="rgba(0,0,0,0.5)" stroke-width="1.0"/>
<line x1="158.50" y1="449.20" x2="158.50" y2="456.60" stroke="rgba(0,0,0,0.060)" stroke-width="1.0"/>
<line x1="162.50" y1="430.00" x2="162.50" y2="449.20" stroke="rgba(0,0,0,0.8)" stroke-width="1.0"/>
<line x1="162.50" y1="449.20" x2="162.50" y2="456.60" stroke="rgba(0,0,0,0.096)" stroke-width="1.0"/>
<line x1="171.50" y1="430.00" x2="171.50" y2="449.20" stroke="rgba(0,0,0,0.5)" stroke-width="1.0"/>
<line x1="171.50" y1="449.20" x2="171.50" y2="456.60" stroke="rgba(0,0,0,0.060)" stroke-width="1.0"/>
<line x1="175.50" y1="430.00" x2="175.50" y2="449.20" stroke="rgba(0,0,0,0.5)" stroke-width="1.0"/>
<line x1="175.50" y1="449.20" x2="175.50" y2="456.60" stroke="rgba(0,0,0,0.060)" stroke-width="1.0"/>
<line x1="182.50" y1="430.00" x2="182.50" y2="449.20" stroke="rgba(0,0,0,1)" stroke-width="1.0"/>
<line x1="182.50" y1="449.20" x2="182.50" y2="456.60" stroke="rgba(0,0,0,0.120)" stroke-width="1.0"/>
<line x1="184.50" y1="430.00" x2="184.50" y2="449.20" stroke="rgba(0,0,0,0.8)" stroke-width="1.0"/>
<line x1="184.50" y1="449.20" x2="184.50" y2="456.60" stroke="rgba(0,0,0,0.096)" stroke-width="1.0"/>
<line x1="187.50" y1="430.00" x2="187.50" y2="449.20" stroke="rgba(0,0,0,1)" stroke-width="1.0"/>
<line x1="187.50" y1="449.20" x2="187.50" y2="456.60" stroke="rgba(0,0,0,0.120)" stroke-width="1.0"/>
<line x1="200.50" y1="430.00" x2="200.50" y2="449.20" stroke="rgba(0,0,0,0.8)" stroke-width="1.0"/>
<line x1="200.50" y1="449.20" x2="200.50" y2="456.60" stroke="rgba(0,0,0,0.096)" stroke-width="1.0"/>
<line x1="202.50" y1="430.00" x2="202.50" y2="449.20" stroke="rgba(0,0,0,0.5)" stroke-width="1.0"/>
<line x1="202.50" y1="449.20" x2="202.50" y2="456.60" stroke="rgba(0,0,0,0.060)" stroke-width="1.0"/>
<line x1="208.50" y1="430.00" x2="208.50" y2="449.20" stroke="rgba(0,0,0,0.8)" stroke-width="1.0"/>
<line x1="208.50" y1="449.20" x2="208.50" y2="456.60" stroke="rgba(0,0,0,0.096)" stroke-width="1.0"/>
<line x1="213.50" y1="430.00" x2="213.50" y2="449.20" stroke="rgba(0,0,0,1)" stroke-width="1.0"/>
<line x1="213.50" y1="449.20" x2="213.50" y2="456.60" stroke="rgba(0,0,0,0.120)" stroke-width="1.0"/>
<line x1="225.50" y1="430.00" x2="225.50" y2="449.20" stroke="rgba(0,0,0,0.7)" stroke-width="1.0"/>
<line x1="225.50" y1="449.20" x2="225.50" y2="456.60" stroke="rgba(0,0,0,0.084)" stroke-width="1.0"/>
<line x1="231.50" y1="430.00" x2="231.50" y2="449.20" stroke="rgba(0,0,0,1)" stroke-width="1.0"/>
<line x1="231.50" y1="449.20" x2="231.50" y2="456.60" stroke="rgba(0,0,0,0.120)" stroke-width="1.0"/>
<line x1="234.50" y1="430.00" x2="234.50" y2="449.20" stroke="rgba(0,0,0,0.5)" stroke-width="1.0"/>
<line x1="234.50" y1="449.20" x2="234.50" y2="456.60" stroke="rgba(0,0,0,0.060)" stroke-width="1.0"/>
<line x1="236.50" y1="430.00" x2="236.50" y2="449.20" stroke="rgba(0,0,0,0.5)" stroke-width="1.0"/>
<line x1="236.50" y1="449.20" x2="236.50" y2="456.60" stroke="rgba(0,0,0,0.060)" stroke-width="1.0"/>
<line x1="239.50" y1="430.00" x2="239.50" y2="449.20" stroke="rgba(0,0,0,0.5)" stroke-width="1.0"/>
<line x1="239.50" y1="449.20" x2="239.50" y2="456.60" stroke="rgba(0,0,0,0.060)" stroke-width="1.0"/>
<line x1="241.50" y1="430.00" x2="241.50" y2="449.20" stroke="rgba(0,0,0,0.8)" stroke-width="1.0"/>
<line x1="241.50" y1="449.20" x2="241.50" y2="456.60" stroke="rgba(0,0,0,0.096)" stroke-width="1.0"/>
<line x1="245.50" y1="430.00" x2="245.50" y2="449.20" stroke="rgba(0,0,0,0.6)" stroke-width="1.0"/>
<line x1="245.50" y1="449.20" x2="245.50" y2="456.60" stroke="rgba(0,0,0,0.072)" stroke-width="1.0"/>
<line x1="250.50" y1="430.00" x2="250.50" y2="449.20" stroke="rgba(0,0,0,0.5)" stroke-width="1.0"/>
<line x1="250.50" y1="449.20" x2="250.50" y2="456.60" stroke="rgba(0,0,0,0.060)" stroke-width="1.0"/>
<path d="M39.5,484 L39.5,477 L41,477.8 L43,478.6 L45,479.2 L50,479.9 L55,480.4 L65,481.1 L80,481.7 L100,482.2 L120,482.6 L145,483 L165,483.4 L180,484 L198,484 L198,484.3 L220,484.8 L235,485.2 L245,485.8 L249,486.6 L251,487.5 L252.3,489 L252.3,484 Z" fill="#BEBEBE"/>
<line x1="38.90" y1="491.80" x2="252.50" y2="491.80" stroke="#000" stroke-width="1.3"/>
<line x1="36.30" y1="456.90" x2="39.50" y2="456.90" stroke="#1a1a1a" stroke-width="1.0"/>
<line x1="36.30" y1="462.30" x2="39.50" y2="462.30" stroke="#1a1a1a" stroke-width="1.0"/>
<line x1="36.30" y1="467.70" x2="39.50" y2="467.70" stroke="#1a1a1a" stroke-width="1.0"/>
<line x1="36.30" y1="473.10" x2="39.50" y2="473.10" stroke="#1a1a1a" stroke-width="1.0"/>
<line x1="36.30" y1="478.50" x2="39.50" y2="478.50" stroke="#1a1a1a" stroke-width="1.0"/>
<line x1="36.30" y1="483.90" x2="39.50" y2="483.90" stroke="#1a1a1a" stroke-width="1.0"/>
<line x1="36.30" y1="489.30" x2="39.50" y2="489.30" stroke="#1a1a1a" stroke-width="1.0"/>
<text x="32.90" y="456.90" font-size="6.0" stroke="#333" stroke-width="0.05" text-anchor="middle" fill="#333" transform="rotate(-90 32.90 456.90)">5</text>
<text x="32.90" y="462.30" font-size="6.0" stroke="#333" stroke-width="0.05" text-anchor="middle" fill="#333" transform="rotate(-90 32.90 462.30)">4</text>
<text x="32.90" y="467.70" font-size="6.0" stroke="#333" stroke-width="0.05" text-anchor="middle" fill="#333" transform="rotate(-90 32.90 467.70)">3</text>
<text x="32.90" y="473.10" font-size="6.0" stroke="#333" stroke-width="0.05" text-anchor="middle" fill="#333" transform="rotate(-90 32.90 473.10)">2</text>
<text x="32.90" y="478.50" font-size="6.0" stroke="#333" stroke-width="0.05" text-anchor="middle" fill="#333" transform="rotate(-90 32.90 478.50)">1</text>
<text x="32.90" y="483.90" font-size="6.0" stroke="#333" stroke-width="0.05" text-anchor="middle" fill="#333" transform="rotate(-90 32.90 483.90)">0</text>
<text x="32.90" y="489.30" font-size="6.0" stroke="#333" stroke-width="0.05" text-anchor="middle" fill="#333" transform="rotate(-90 32.90 489.30)">-1</text>
<line x1="90.10" y1="491.80" x2="90.10" y2="495.00" stroke="#1a1a1a" stroke-width="1.0"/>
<text x="90.10" y="504.70" font-size="7.2" stroke="#333" stroke-width="0.12" text-anchor="middle" fill="#333">4000</text>
<line x1="140.70" y1="491.80" x2="140.70" y2="495.00" stroke="#1a1a1a" stroke-width="1.0"/>
<text x="140.70" y="504.70" font-size="7.2" stroke="#333" stroke-width="0.12" text-anchor="middle" fill="#333">8000</text>
<line x1="191.30" y1="491.80" x2="191.30" y2="495.00" stroke="#1a1a1a" stroke-width="1.0"/>
<text x="191.30" y="504.70" font-size="7.2" stroke="#333" stroke-width="0.12" text-anchor="middle" fill="#333">12000</text>
<line x1="241.90" y1="491.80" x2="241.90" y2="495.00" stroke="#1a1a1a" stroke-width="1.0"/>
<text x="241.90" y="504.70" font-size="7.2" stroke="#333" stroke-width="0.12" text-anchor="middle" fill="#333">16000</text>
<text x="146.00" y="517.30" font-size="9.6" stroke="#111" stroke-width="0.25" text-anchor="middle" fill="#111" textLength="67.30" lengthAdjust="spacingAndGlyphs">Rank in ordered dataset</text>
<text x="17.80" y="406.00" font-size="9.6" stroke="#111" stroke-width="0.25" text-anchor="middle" fill="#111" textLength="32.30" lengthAdjust="spacingAndGlyphs" transform="rotate(-90 17.80 406.00)">Running ES</text>
<text x="17.80" y="473.00" font-size="9.6" stroke="#111" stroke-width="0.25" text-anchor="middle" fill="#111" textLength="43.30" lengthAdjust="spacingAndGlyphs" transform="rotate(-90 17.80 473.00)">Ranked&#160;&#160;metric</text>
<line x1="328.95" y1="367.00" x2="328.95" y2="429.50" stroke="#EBEBEB" stroke-width="0.8"/>
<line x1="328.95" y1="457.00" x2="328.95" y2="491.30" stroke="#EBEBEB" stroke-width="0.8"/>
<line x1="357.40" y1="367.00" x2="357.40" y2="429.50" stroke="#EBEBEB" stroke-width="0.8"/>
<line x1="357.40" y1="457.00" x2="357.40" y2="491.30" stroke="#EBEBEB" stroke-width="0.8"/>
<line x1="385.85" y1="367.00" x2="385.85" y2="429.50" stroke="#EBEBEB" stroke-width="0.8"/>
<line x1="385.85" y1="457.00" x2="385.85" y2="491.30" stroke="#EBEBEB" stroke-width="0.8"/>
<line x1="414.30" y1="367.00" x2="414.30" y2="429.50" stroke="#EBEBEB" stroke-width="0.8"/>
<line x1="414.30" y1="457.00" x2="414.30" y2="491.30" stroke="#EBEBEB" stroke-width="0.8"/>
<line x1="442.75" y1="367.00" x2="442.75" y2="429.50" stroke="#EBEBEB" stroke-width="0.8"/>
<line x1="442.75" y1="457.00" x2="442.75" y2="491.30" stroke="#EBEBEB" stroke-width="0.8"/>
<line x1="471.20" y1="367.00" x2="471.20" y2="429.50" stroke="#EBEBEB" stroke-width="0.8"/>
<line x1="471.20" y1="457.00" x2="471.20" y2="491.30" stroke="#EBEBEB" stroke-width="0.8"/>
<line x1="499.65" y1="367.00" x2="499.65" y2="429.50" stroke="#EBEBEB" stroke-width="0.8"/>
<line x1="499.65" y1="457.00" x2="499.65" y2="491.30" stroke="#EBEBEB" stroke-width="0.8"/>
<text x="300.00" y="362.20" font-size="8.6" fill="#333" textLength="42.00" lengthAdjust="spacingAndGlyphs">TCGA data</text>
<text x="382.20" y="362.00" font-size="8.6" stroke="#000" stroke-width="0.12" font-weight="bold" textLength="49.80" lengthAdjust="spacingAndGlyphs">Coagulation</text>
<line x1="300.50" y1="367.00" x2="300.50" y2="492.45" stroke="#000" stroke-width="1.2"/>
<line x1="297.30" y1="369.25" x2="300.50" y2="369.25" stroke="#1a1a1a" stroke-width="1.0"/>
<text x="293.90" y="371.70" font-size="7" stroke="#333" stroke-width="0.12" text-anchor="end" fill="#333">0.5</text>
<line x1="297.30" y1="380.80" x2="300.50" y2="380.80" stroke="#1a1a1a" stroke-width="1.0"/>
<text x="293.90" y="383.25" font-size="7" stroke="#333" stroke-width="0.12" text-anchor="end" fill="#333">0.4</text>
<line x1="297.30" y1="392.35" x2="300.50" y2="392.35" stroke="#1a1a1a" stroke-width="1.0"/>
<text x="293.90" y="394.80" font-size="7" stroke="#333" stroke-width="0.12" text-anchor="end" fill="#333">0.3</text>
<line x1="297.30" y1="403.90" x2="300.50" y2="403.90" stroke="#1a1a1a" stroke-width="1.0"/>
<text x="293.90" y="406.35" font-size="7" stroke="#333" stroke-width="0.12" text-anchor="end" fill="#333">0.2</text>
<line x1="297.30" y1="415.45" x2="300.50" y2="415.45" stroke="#1a1a1a" stroke-width="1.0"/>
<text x="293.90" y="417.90" font-size="7" stroke="#333" stroke-width="0.12" text-anchor="end" fill="#333">0.1</text>
<line x1="297.30" y1="427.00" x2="300.50" y2="427.00" stroke="#1a1a1a" stroke-width="1.0"/>
<text x="293.90" y="429.45" font-size="7" stroke="#333" stroke-width="0.12" text-anchor="end" fill="#333">0.0</text>
<polyline points="300.60,422.40 301.50,405.00 303.10,403.90 303.80,397.00 304.70,387.70 306.50,388.90 307.70,387.30 308.40,388.90 309.30,378.50 311.20,378.00 312.30,379.60 313.50,377.30 316.90,379.60 318.10,380.30 319.20,377.30 320.90,375.00 322.70,376.20 323.90,374.30 326.20,375.00 327.30,372.00 329.20,372.70 330.80,369.70 332.00,370.40 337.70,373.40 343.50,376.60 344.70,375.70 347.00,373.40 348.60,374.30 350.40,373.90 353.90,376.20 357.40,378.00 362.00,380.30 365.40,381.90 366.60,380.30 368.90,381.90 371.20,381.90 374.70,381.90 379.30,384.20 380.90,384.90 383.90,383.10 386.20,381.90 388.50,383.60 392.00,382.20 394.30,383.10 396.60,384.20 398.50,383.10 400.80,384.20 402.40,383.10 404.70,384.90 407.00,384.90 410.50,385.90 415.10,387.30 420.40,389.40 427.00,392.00 433.80,394.80 440.00,397.80 447.30,401.50 454.00,405.00 460.80,408.30 467.00,411.00 474.20,413.70 481.00,416.80 487.70,419.90 490.40,419.00 494.00,421.00 498.50,423.00 501.00,424.40 503.00,423.60 505.20,425.80 508.00,426.00 509.50,425.50 511.90,427.10" fill="none" stroke="#7CFC00" stroke-width="1.5" stroke-linejoin="round"/>
<rect x="300.50" y="449.20" width="39.50" height="7.40" fill="#D9614A"/>
<rect x="340.00" y="449.20" width="30.00" height="7.40" fill="#EBA68E"/>
<rect x="370.00" y="449.20" width="30.20" height="7.40" fill="#F9E2D8"/>
<rect x="400.20" y="449.20" width="20.20" height="7.40" fill="#E8EEF9"/>
<rect x="420.40" y="449.20" width="18.80" height="7.40" fill="#C3D7EC"/>
<rect x="439.20" y="449.20" width="47.20" height="7.40" fill="#8DB2DA"/>
<rect x="486.40" y="449.20" width="17.50" height="7.40" fill="#5F88C4"/>
<rect x="503.90" y="449.20" width="8.10" height="7.40" fill="#3C5FA8"/>
<line x1="300.50" y1="430.00" x2="300.50" y2="449.20" stroke="rgba(0,0,0,1)" stroke-width="1.0"/>
<line x1="300.50" y1="449.20" x2="300.50" y2="456.60" stroke="rgba(0,0,0,0.120)" stroke-width="1.0"/>
<line x1="302.50" y1="430.00" x2="302.50" y2="449.20" stroke="rgba(0,0,0,0.5)" stroke-width="1.0"/>
<line x1="302.50" y1="449.20" x2="302.50" y2="456.60" stroke="rgba(0,0,0,0.060)" stroke-width="1.0"/>
<line x1="304.50" y1="430.00" x2="304.50" y2="449.20" stroke="rgba(0,0,0,0.8)" stroke-width="1.0"/>
<line x1="304.50" y1="449.20" x2="304.50" y2="456.60" stroke="rgba(0,0,0,0.096)" stroke-width="1.0"/>
<line x1="308.50" y1="430.00" x2="308.50" y2="449.20" stroke="rgba(0,0,0,0.8)" stroke-width="1.0"/>
<line x1="308.50" y1="449.20" x2="308.50" y2="456.60" stroke="rgba(0,0,0,0.096)" stroke-width="1.0"/>
<line x1="312.50" y1="430.00" x2="312.50" y2="449.20" stroke="rgba(0,0,0,0.5)" stroke-width="1.0"/>
<line x1="312.50" y1="449.20" x2="312.50" y2="456.60" stroke="rgba(0,0,0,0.060)" stroke-width="1.0"/>
<line x1="318.50" y1="430.00" x2="318.50" y2="449.20" stroke="rgba(0,0,0,0.5)" stroke-width="1.0"/>
<line x1="318.50" y1="449.20" x2="318.50" y2="456.60" stroke="rgba(0,0,0,0.060)" stroke-width="1.0"/>
<line x1="320.50" y1="430.00" x2="320.50" y2="449.20" stroke="rgba(0,0,0,1)" stroke-width="1.0"/>
<line x1="320.50" y1="449.20" x2="320.50" y2="456.60" stroke="rgba(0,0,0,0.120)" stroke-width="1.0"/>
<line x1="323.50" y1="430.00" x2="323.50" y2="449.20" stroke="rgba(0,0,0,0.5)" stroke-width="1.0"/>
<line x1="323.50" y1="449.20" x2="323.50" y2="456.60" stroke="rgba(0,0,0,0.060)" stroke-width="1.0"/>
<line x1="325.50" y1="430.00" x2="325.50" y2="449.20" stroke="rgba(0,0,0,0.8)" stroke-width="1.0"/>
<line x1="325.50" y1="449.20" x2="325.50" y2="456.60" stroke="rgba(0,0,0,0.096)" stroke-width="1.0"/>
<line x1="330.50" y1="430.00" x2="330.50" y2="449.20" stroke="rgba(0,0,0,0.8)" stroke-width="1.0"/>
<line x1="330.50" y1="449.20" x2="330.50" y2="456.60" stroke="rgba(0,0,0,0.096)" stroke-width="1.0"/>
<line x1="343.50" y1="430.00" x2="343.50" y2="449.20" stroke="rgba(0,0,0,0.4)" stroke-width="1.0"/>
<line x1="343.50" y1="449.20" x2="343.50" y2="456.60" stroke="rgba(0,0,0,0.048)" stroke-width="1.0"/>
<line x1="344.50" y1="430.00" x2="344.50" y2="449.20" stroke="rgba(0,0,0,0.4)" stroke-width="1.0"/>
<line x1="344.50" y1="449.20" x2="344.50" y2="456.60" stroke="rgba(0,0,0,0.048)" stroke-width="1.0"/>
<line x1="346.50" y1="430.00" x2="346.50" y2="449.20" stroke="rgba(0,0,0,0.8)" stroke-width="1.0"/>
<line x1="346.50" y1="449.20" x2="346.50" y2="456.60" stroke="rgba(0,0,0,0.096)" stroke-width="1.0"/>
<line x1="350.50" y1="430.00" x2="350.50" y2="449.20" stroke="rgba(0,0,0,0.8)" stroke-width="1.0"/>
<line x1="350.50" y1="449.20" x2="350.50" y2="456.60" stroke="rgba(0,0,0,0.096)" stroke-width="1.0"/>
<line x1="366.50" y1="430.00" x2="366.50" y2="449.20" stroke="rgba(0,0,0,0.8)" stroke-width="1.0"/>
<line x1="366.50" y1="449.20" x2="366.50" y2="456.60" stroke="rgba(0,0,0,0.096)" stroke-width="1.0"/>
<line x1="370.50" y1="430.00" x2="370.50" y2="449.20" stroke="rgba(0,0,0,0.5)" stroke-width="1.0"/>
<line x1="370.50" y1="449.20" x2="370.50" y2="456.60" stroke="rgba(0,0,0,0.060)" stroke-width="1.0"/>
<line x1="373.50" y1="430.00" x2="373.50" y2="449.20" stroke="rgba(0,0,0,0.8)" stroke-width="1.0"/>
<line x1="373.50" y1="449.20" x2="373.50" y2="456.60" stroke="rgba(0,0,0,0.096)" stroke-width="1.0"/>
<line x1="381.50" y1="430.00" x2="381.50" y2="449.20" stroke="rgba(0,0,0,0.5)" stroke-width="1.0"/>
<line x1="381.50" y1="449.20" x2="381.50" y2="456.60" stroke="rgba(0,0,0,0.060)" stroke-width="1.0"/>
<line x1="382.50" y1="430.00" x2="382.50" y2="449.20" stroke="rgba(0,0,0,0.8)" stroke-width="1.0"/>
<line x1="382.50" y1="449.20" x2="382.50" y2="456.60" stroke="rgba(0,0,0,0.096)" stroke-width="1.0"/>
<line x1="383.50" y1="430.00" x2="383.50" y2="449.20" stroke="rgba(0,0,0,0.5)" stroke-width="1.0"/>
<line x1="383.50" y1="449.20" x2="383.50" y2="456.60" stroke="rgba(0,0,0,0.060)" stroke-width="1.0"/>
<line x1="385.50" y1="430.00" x2="385.50" y2="449.20" stroke="rgba(0,0,0,0.8)" stroke-width="1.0"/>
<line x1="385.50" y1="449.20" x2="385.50" y2="456.60" stroke="rgba(0,0,0,0.096)" stroke-width="1.0"/>
<line x1="389.50" y1="430.00" x2="389.50" y2="449.20" stroke="rgba(0,0,0,0.5)" stroke-width="1.0"/>
<line x1="389.50" y1="449.20" x2="389.50" y2="456.60" stroke="rgba(0,0,0,0.060)" stroke-width="1.0"/>
<line x1="391.50" y1="430.00" x2="391.50" y2="449.20" stroke="rgba(0,0,0,0.8)" stroke-width="1.0"/>
<line x1="391.50" y1="449.20" x2="391.50" y2="456.60" stroke="rgba(0,0,0,0.096)" stroke-width="1.0"/>
<line x1="397.50" y1="430.00" x2="397.50" y2="449.20" stroke="rgba(0,0,0,1)" stroke-width="1.0"/>
<line x1="397.50" y1="449.20" x2="397.50" y2="456.60" stroke="rgba(0,0,0,0.120)" stroke-width="1.0"/>
<line x1="401.50" y1="430.00" x2="401.50" y2="449.20" stroke="rgba(0,0,0,0.8)" stroke-width="1.0"/>
<line x1="401.50" y1="449.20" x2="401.50" y2="456.60" stroke="rgba(0,0,0,0.096)" stroke-width="1.0"/>
<line x1="407.50" y1="430.00" x2="407.50" y2="449.20" stroke="rgba(0,0,0,0.8)" stroke-width="1.0"/>
<line x1="407.50" y1="449.20" x2="407.50" y2="456.60" stroke="rgba(0,0,0,0.096)" stroke-width="1.0"/>
<line x1="410.50" y1="430.00" x2="410.50" y2="449.20" stroke="rgba(0,0,0,0.5)" stroke-width="1.0"/>
<line x1="410.50" y1="449.20" x2="410.50" y2="456.60" stroke="rgba(0,0,0,0.060)" stroke-width="1.0"/>
<line x1="412.50" y1="430.00" x2="412.50" y2="449.20" stroke="rgba(0,0,0,0.8)" stroke-width="1.0"/>
<line x1="412.50" y1="449.20" x2="412.50" y2="456.60" stroke="rgba(0,0,0,0.096)" stroke-width="1.0"/>
<line x1="419.50" y1="430.00" x2="419.50" y2="449.20" stroke="rgba(0,0,0,0.5)" stroke-width="1.0"/>
<line x1="419.50" y1="449.20" x2="419.50" y2="456.60" stroke="rgba(0,0,0,0.060)" stroke-width="1.0"/>
<line x1="422.50" y1="430.00" x2="422.50" y2="449.20" stroke="rgba(0,0,0,0.5)" stroke-width="1.0"/>
<line x1="422.50" y1="449.20" x2="422.50" y2="456.60" stroke="rgba(0,0,0,0.060)" stroke-width="1.0"/>
<line x1="426.50" y1="430.00" x2="426.50" y2="449.20" stroke="rgba(0,0,0,0.8)" stroke-width="1.0"/>
<line x1="426.50" y1="449.20" x2="426.50" y2="456.60" stroke="rgba(0,0,0,0.096)" stroke-width="1.0"/>
<line x1="430.50" y1="430.00" x2="430.50" y2="449.20" stroke="rgba(0,0,0,0.5)" stroke-width="1.0"/>
<line x1="430.50" y1="449.20" x2="430.50" y2="456.60" stroke="rgba(0,0,0,0.060)" stroke-width="1.0"/>
<line x1="432.50" y1="430.00" x2="432.50" y2="449.20" stroke="rgba(0,0,0,0.8)" stroke-width="1.0"/>
<line x1="432.50" y1="449.20" x2="432.50" y2="456.60" stroke="rgba(0,0,0,0.096)" stroke-width="1.0"/>
<line x1="434.50" y1="430.00" x2="434.50" y2="449.20" stroke="rgba(0,0,0,0.8)" stroke-width="1.0"/>
<line x1="434.50" y1="449.20" x2="434.50" y2="456.60" stroke="rgba(0,0,0,0.096)" stroke-width="1.0"/>
<line x1="437.50" y1="430.00" x2="437.50" y2="449.20" stroke="rgba(0,0,0,0.8)" stroke-width="1.0"/>
<line x1="437.50" y1="449.20" x2="437.50" y2="456.60" stroke="rgba(0,0,0,0.096)" stroke-width="1.0"/>
<line x1="442.50" y1="430.00" x2="442.50" y2="449.20" stroke="rgba(0,0,0,0.6)" stroke-width="1.0"/>
<line x1="442.50" y1="449.20" x2="442.50" y2="456.60" stroke="rgba(0,0,0,0.072)" stroke-width="1.0"/>
<line x1="443.50" y1="430.00" x2="443.50" y2="449.20" stroke="rgba(0,0,0,0.8)" stroke-width="1.0"/>
<line x1="443.50" y1="449.20" x2="443.50" y2="456.60" stroke="rgba(0,0,0,0.096)" stroke-width="1.0"/>
<line x1="445.50" y1="430.00" x2="445.50" y2="449.20" stroke="rgba(0,0,0,1)" stroke-width="1.0"/>
<line x1="445.50" y1="449.20" x2="445.50" y2="456.60" stroke="rgba(0,0,0,0.120)" stroke-width="1.0"/>
<line x1="447.50" y1="430.00" x2="447.50" y2="449.20" stroke="rgba(0,0,0,0.5)" stroke-width="1.0"/>
<line x1="447.50" y1="449.20" x2="447.50" y2="456.60" stroke="rgba(0,0,0,0.060)" stroke-width="1.0"/>
<line x1="452.50" y1="430.00" x2="452.50" y2="449.20" stroke="rgba(0,0,0,0.5)" stroke-width="1.0"/>
<line x1="452.50" y1="449.20" x2="452.50" y2="456.60" stroke="rgba(0,0,0,0.060)" stroke-width="1.0"/>
<line x1="461.50" y1="430.00" x2="461.50" y2="449.20" stroke="rgba(0,0,0,0.5)" stroke-width="1.0"/>
<line x1="461.50" y1="449.20" x2="461.50" y2="456.60" stroke="rgba(0,0,0,0.060)" stroke-width="1.0"/>
<line x1="463.50" y1="430.00" x2="463.50" y2="449.20" stroke="rgba(0,0,0,0.5)" stroke-width="1.0"/>
<line x1="463.50" y1="449.20" x2="463.50" y2="456.60" stroke="rgba(0,0,0,0.060)" stroke-width="1.0"/>
<line x1="466.50" y1="430.00" x2="466.50" y2="449.20" stroke="rgba(0,0,0,0.5)" stroke-width="1.0"/>
<line x1="466.50" y1="449.20" x2="466.50" y2="456.60" stroke="rgba(0,0,0,0.060)" stroke-width="1.0"/>
<line x1="468.50" y1="430.00" x2="468.50" y2="449.20" stroke="rgba(0,0,0,0.5)" stroke-width="1.0"/>
<line x1="468.50" y1="449.20" x2="468.50" y2="456.60" stroke="rgba(0,0,0,0.060)" stroke-width="1.0"/>
<line x1="472.50" y1="430.00" x2="472.50" y2="449.20" stroke="rgba(0,0,0,0.8)" stroke-width="1.0"/>
<line x1="472.50" y1="449.20" x2="472.50" y2="456.60" stroke="rgba(0,0,0,0.096)" stroke-width="1.0"/>
<line x1="476.50" y1="430.00" x2="476.50" y2="449.20" stroke="rgba(0,0,0,0.5)" stroke-width="1.0"/>
<line x1="476.50" y1="449.20" x2="476.50" y2="456.60" stroke="rgba(0,0,0,0.060)" stroke-width="1.0"/>
<line x1="479.50" y1="430.00" x2="479.50" y2="449.20" stroke="rgba(0,0,0,0.7)" stroke-width="1.0"/>
<line x1="479.50" y1="449.20" x2="479.50" y2="456.60" stroke="rgba(0,0,0,0.084)" stroke-width="1.0"/>
<line x1="484.50" y1="430.00" x2="484.50" y2="449.20" stroke="rgba(0,0,0,0.5)" stroke-width="1.0"/>
<line x1="484.50" y1="449.20" x2="484.50" y2="456.60" stroke="rgba(0,0,0,0.060)" stroke-width="1.0"/>
<line x1="488.50" y1="430.00" x2="488.50" y2="449.20" stroke="rgba(0,0,0,0.8)" stroke-width="1.0"/>
<line x1="488.50" y1="449.20" x2="488.50" y2="456.60" stroke="rgba(0,0,0,0.096)" stroke-width="1.0"/>
<line x1="491.50" y1="430.00" x2="491.50" y2="449.20" stroke="rgba(0,0,0,0.7)" stroke-width="1.0"/>
<line x1="491.50" y1="449.20" x2="491.50" y2="456.60" stroke="rgba(0,0,0,0.084)" stroke-width="1.0"/>
<line x1="504.50" y1="430.00" x2="504.50" y2="449.20" stroke="rgba(0,0,0,0.7)" stroke-width="1.0"/>
<line x1="504.50" y1="449.20" x2="504.50" y2="456.60" stroke="rgba(0,0,0,0.084)" stroke-width="1.0"/>
<line x1="508.50" y1="430.00" x2="508.50" y2="449.20" stroke="rgba(0,0,0,0.5)" stroke-width="1.0"/>
<line x1="508.50" y1="449.20" x2="508.50" y2="456.60" stroke="rgba(0,0,0,0.060)" stroke-width="1.0"/>
<path d="M300.5,478.75 L300.5,465.3 L302,466.3 L304,467.3 L307,468.6 L312,470 L320,471.2 L335,472.4 L360,473.8 L390,475 L420,476.3 L435,477.6 L445,478.75 L460,479.3 L480,480 L495,480.6 L502,481.3 L506,482.5 L509,484.5 L511,486.5 L511.8,488.7 L511.8,478.75 Z" fill="#BEBEBE"/>
<line x1="299.90" y1="491.80" x2="512.00" y2="491.80" stroke="#000" stroke-width="1.3"/>
<line x1="297.30" y1="461.75" x2="300.50" y2="461.75" stroke="#1a1a1a" stroke-width="1.0"/>
<line x1="297.30" y1="470.25" x2="300.50" y2="470.25" stroke="#1a1a1a" stroke-width="1.0"/>
<line x1="297.30" y1="478.75" x2="300.50" y2="478.75" stroke="#1a1a1a" stroke-width="1.0"/>
<line x1="297.30" y1="487.25" x2="300.50" y2="487.25" stroke="#1a1a1a" stroke-width="1.0"/>
<text x="293.90" y="464.20" font-size="7" stroke="#333" stroke-width="0.12" text-anchor="end" fill="#333" transform="rotate(0 293.90 464.20)">1.0</text>
<text x="293.90" y="472.70" font-size="7" stroke="#333" stroke-width="0.12" text-anchor="end" fill="#333" transform="rotate(0 293.90 472.70)">0.5</text>
<text x="293.90" y="481.20" font-size="7" stroke="#333" stroke-width="0.12" text-anchor="end" fill="#333" transform="rotate(0 293.90 481.20)">0.0</text>
<text x="293.90" y="489.70" font-size="7" stroke="#333" stroke-width="0.12" text-anchor="end" fill="#333" transform="rotate(0 293.90 489.70)">-0.5</text>
<line x1="357.40" y1="491.80" x2="357.40" y2="495.00" stroke="#1a1a1a" stroke-width="1.0"/>
<text x="357.40" y="504.70" font-size="7.2" stroke="#333" stroke-width="0.12" text-anchor="middle" fill="#333">5000</text>
<line x1="412.80" y1="491.80" x2="412.80" y2="495.00" stroke="#1a1a1a" stroke-width="1.0"/>
<text x="412.80" y="504.70" font-size="7.2" stroke="#333" stroke-width="0.12" text-anchor="middle" fill="#333">10000</text>
<line x1="469.70" y1="491.80" x2="469.70" y2="495.00" stroke="#1a1a1a" stroke-width="1.0"/>
<text x="469.70" y="504.70" font-size="7.2" stroke="#333" stroke-width="0.12" text-anchor="middle" fill="#333">15000</text>
<text x="406.20" y="517.30" font-size="9.6" stroke="#111" stroke-width="0.25" text-anchor="middle" fill="#111" textLength="67.30" lengthAdjust="spacingAndGlyphs">Rank in ordered dataset</text>
<text x="277.60" y="398.60" font-size="9.6" stroke="#111" stroke-width="0.25" text-anchor="middle" fill="#111" textLength="32.30" lengthAdjust="spacingAndGlyphs" transform="rotate(-90 277.60 398.60)">Running ES</text>
<text x="277.60" y="474.40" font-size="9.6" stroke="#111" stroke-width="0.25" text-anchor="middle" fill="#111" textLength="43.70" lengthAdjust="spacingAndGlyphs" transform="rotate(-90 277.60 474.40)">Ranked&#160;&#160;metric</text>
</svg></body></html>
